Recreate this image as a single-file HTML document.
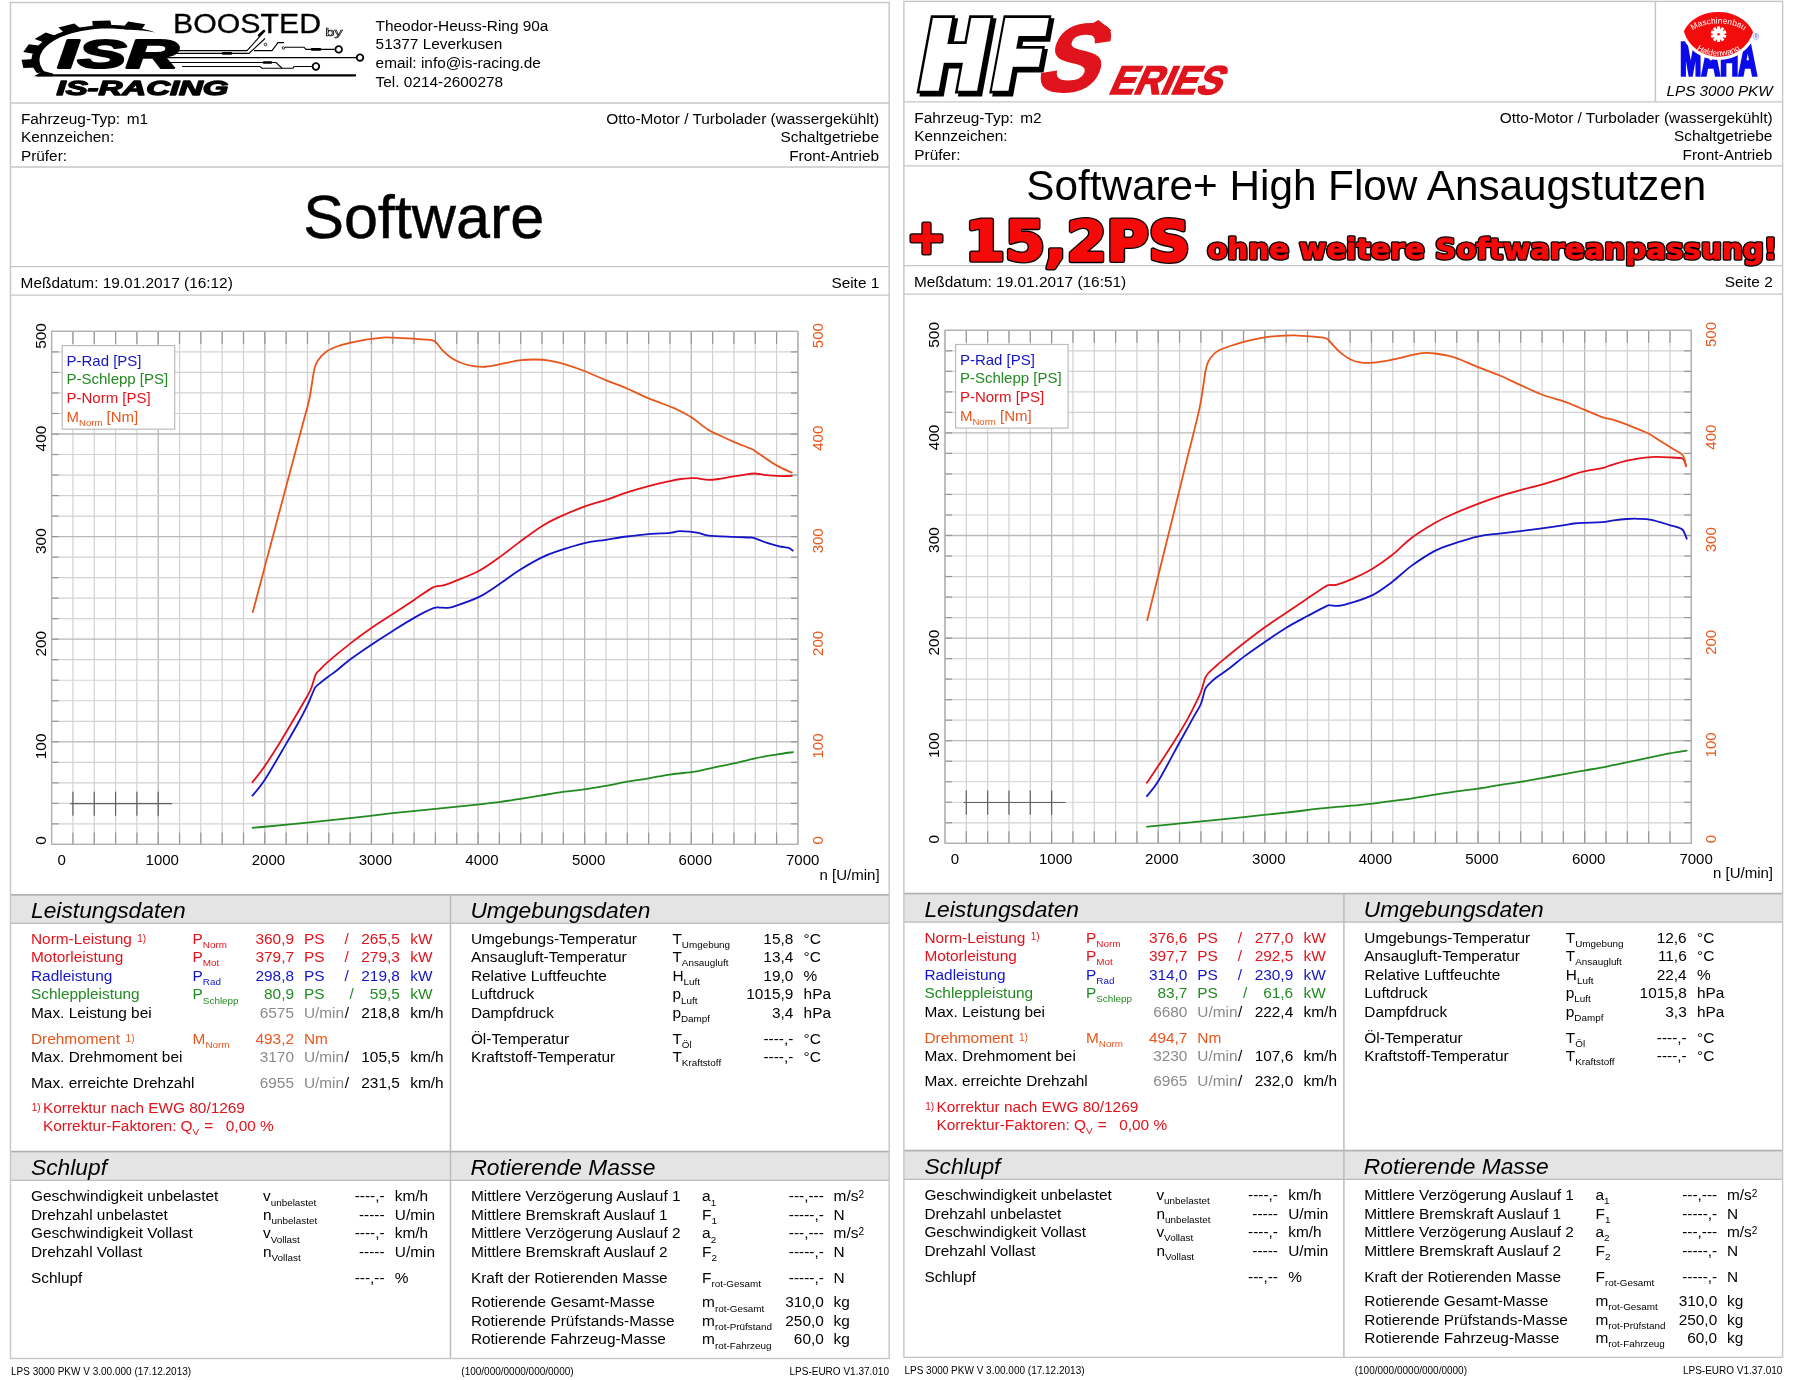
<!DOCTYPE html>
<html><head><meta charset="utf-8"><title>LPS 3000 Leistungsmessung</title>
<style>
html,body{margin:0;padding:0;background:#fff;}
svg{display:block;will-change:transform;}
svg{font-family:'Liberation Sans', Arial, sans-serif;}
</style></head><body>
<svg width="1800" height="1380" viewBox="0 0 1800 1380">
<rect width="1800" height="1380" fill="#fff"/>
<g>
<rect x="10.5" y="895.6" width="878.7" height="27" fill="#e4e4e4"/>
<rect x="10.5" y="1152.5" width="878.7" height="27" fill="#e4e4e4"/>
<line x1="10.50" y1="894.80" x2="889.20" y2="894.80" stroke="#afafaf" stroke-width="1.8"/>
<line x1="10.50" y1="923.20" x2="889.20" y2="923.20" stroke="#bdbdbd" stroke-width="1.5"/>
<line x1="10.50" y1="1151.70" x2="889.20" y2="1151.70" stroke="#afafaf" stroke-width="1.8"/>
<line x1="10.50" y1="1180.30" x2="889.20" y2="1180.30" stroke="#bdbdbd" stroke-width="1.5"/>
<line x1="450.50" y1="894.80" x2="450.50" y2="1358.50" stroke="#bcbcbc" stroke-width="1.5"/>
<line x1="10.50" y1="103.00" x2="889.20" y2="103.00" stroke="#c6c6c6" stroke-width="1.3"/>
<line x1="10.50" y1="167.00" x2="889.20" y2="167.00" stroke="#c6c6c6" stroke-width="1.3"/>
<line x1="10.50" y1="266.70" x2="889.20" y2="266.70" stroke="#c6c6c6" stroke-width="1.3"/>
<line x1="10.50" y1="295.20" x2="889.20" y2="295.20" stroke="#c6c6c6" stroke-width="1.3"/>
<rect x="10.5" y="2.5" width="878.7" height="1356" fill="none" stroke="#c6c6c6" stroke-width="1.4"/>
<text x="31.00" y="918.00" font-size="22.8" fill="#000" font-style="italic">Leistungsdaten</text>
<text x="470.40" y="918.00" font-size="22.8" fill="#000" font-style="italic">Umgebungsdaten</text>
<text x="31.00" y="1175.00" font-size="22.8" fill="#000" font-style="italic">Schlupf</text>
<text x="470.40" y="1175.00" font-size="22.8" fill="#000" font-style="italic">Rotierende Masse</text>
<text x="11.00" y="1375.00" font-size="10" fill="#000">LPS 3000 PKW V 3.00.000 (17.12.2013)</text>
<text x="461.30" y="1375.00" font-size="10" fill="#000">(100/000/0000/000/0000)</text>
<text x="889.00" y="1375.00" font-size="10" fill="#000" text-anchor="end">LPS-EURO V1.37.010</text>
<text x="20.90" y="123.80" font-size="15.4" fill="#000">Fahrzeug-Typ:</text>
<text x="126.80" y="123.80" font-size="15.4" fill="#000">m1</text>
<text x="20.90" y="142.20" font-size="15.4" fill="#000">Kennzeichen:</text>
<text x="20.90" y="160.70" font-size="15.4" fill="#000">Prüfer:</text>
<text x="879.20" y="123.80" font-size="15.4" fill="#000" text-anchor="end">Otto-Motor / Turbolader (wassergekühlt)</text>
<text x="879.00" y="142.20" font-size="15.4" fill="#000" text-anchor="end">Schaltgetriebe</text>
<text x="879.00" y="160.70" font-size="15.4" fill="#000" text-anchor="end">Front-Antrieb</text>
<text x="20.60" y="288.30" font-size="15.4" fill="#000">Meßdatum: 19.01.2017 (16:12)</text>
<text x="879.30" y="288.30" font-size="15.4" fill="#000" text-anchor="end">Seite 1</text>
<line x1="51.60" y1="331.40" x2="51.60" y2="844.40" stroke="#b8b8b8" stroke-width="1.3"/>
<line x1="72.92" y1="331.40" x2="72.92" y2="844.40" stroke="#d2d2d2" stroke-width="1.2"/>
<line x1="94.25" y1="331.40" x2="94.25" y2="844.40" stroke="#d2d2d2" stroke-width="1.2"/>
<line x1="115.57" y1="331.40" x2="115.57" y2="844.40" stroke="#d2d2d2" stroke-width="1.2"/>
<line x1="136.89" y1="331.40" x2="136.89" y2="844.40" stroke="#d2d2d2" stroke-width="1.2"/>
<line x1="158.21" y1="331.40" x2="158.21" y2="844.40" stroke="#b8b8b8" stroke-width="1.3"/>
<line x1="179.54" y1="331.40" x2="179.54" y2="844.40" stroke="#d2d2d2" stroke-width="1.2"/>
<line x1="200.86" y1="331.40" x2="200.86" y2="844.40" stroke="#d2d2d2" stroke-width="1.2"/>
<line x1="222.18" y1="331.40" x2="222.18" y2="844.40" stroke="#d2d2d2" stroke-width="1.2"/>
<line x1="243.51" y1="331.40" x2="243.51" y2="844.40" stroke="#d2d2d2" stroke-width="1.2"/>
<line x1="264.83" y1="331.40" x2="264.83" y2="844.40" stroke="#b8b8b8" stroke-width="1.3"/>
<line x1="286.15" y1="331.40" x2="286.15" y2="844.40" stroke="#d2d2d2" stroke-width="1.2"/>
<line x1="307.47" y1="331.40" x2="307.47" y2="844.40" stroke="#d2d2d2" stroke-width="1.2"/>
<line x1="328.80" y1="331.40" x2="328.80" y2="844.40" stroke="#d2d2d2" stroke-width="1.2"/>
<line x1="350.12" y1="331.40" x2="350.12" y2="844.40" stroke="#d2d2d2" stroke-width="1.2"/>
<line x1="371.44" y1="331.40" x2="371.44" y2="844.40" stroke="#b8b8b8" stroke-width="1.3"/>
<line x1="392.77" y1="331.40" x2="392.77" y2="844.40" stroke="#d2d2d2" stroke-width="1.2"/>
<line x1="414.09" y1="331.40" x2="414.09" y2="844.40" stroke="#d2d2d2" stroke-width="1.2"/>
<line x1="435.41" y1="331.40" x2="435.41" y2="844.40" stroke="#d2d2d2" stroke-width="1.2"/>
<line x1="456.73" y1="331.40" x2="456.73" y2="844.40" stroke="#d2d2d2" stroke-width="1.2"/>
<line x1="478.06" y1="331.40" x2="478.06" y2="844.40" stroke="#b8b8b8" stroke-width="1.3"/>
<line x1="499.38" y1="331.40" x2="499.38" y2="844.40" stroke="#d2d2d2" stroke-width="1.2"/>
<line x1="520.70" y1="331.40" x2="520.70" y2="844.40" stroke="#d2d2d2" stroke-width="1.2"/>
<line x1="542.03" y1="331.40" x2="542.03" y2="844.40" stroke="#d2d2d2" stroke-width="1.2"/>
<line x1="563.35" y1="331.40" x2="563.35" y2="844.40" stroke="#d2d2d2" stroke-width="1.2"/>
<line x1="584.67" y1="331.40" x2="584.67" y2="844.40" stroke="#b8b8b8" stroke-width="1.3"/>
<line x1="605.99" y1="331.40" x2="605.99" y2="844.40" stroke="#d2d2d2" stroke-width="1.2"/>
<line x1="627.32" y1="331.40" x2="627.32" y2="844.40" stroke="#d2d2d2" stroke-width="1.2"/>
<line x1="648.64" y1="331.40" x2="648.64" y2="844.40" stroke="#d2d2d2" stroke-width="1.2"/>
<line x1="669.96" y1="331.40" x2="669.96" y2="844.40" stroke="#d2d2d2" stroke-width="1.2"/>
<line x1="691.29" y1="331.40" x2="691.29" y2="844.40" stroke="#b8b8b8" stroke-width="1.3"/>
<line x1="712.61" y1="331.40" x2="712.61" y2="844.40" stroke="#d2d2d2" stroke-width="1.2"/>
<line x1="733.93" y1="331.40" x2="733.93" y2="844.40" stroke="#d2d2d2" stroke-width="1.2"/>
<line x1="755.25" y1="331.40" x2="755.25" y2="844.40" stroke="#d2d2d2" stroke-width="1.2"/>
<line x1="776.58" y1="331.40" x2="776.58" y2="844.40" stroke="#d2d2d2" stroke-width="1.2"/>
<line x1="797.90" y1="331.40" x2="797.90" y2="844.40" stroke="#b8b8b8" stroke-width="1.3"/>
<line x1="51.60" y1="844.40" x2="797.90" y2="844.40" stroke="#b8b8b8" stroke-width="1.3"/>
<line x1="51.60" y1="823.88" x2="797.90" y2="823.88" stroke="#d2d2d2" stroke-width="1.2"/>
<line x1="51.60" y1="803.36" x2="797.90" y2="803.36" stroke="#d2d2d2" stroke-width="1.2"/>
<line x1="51.60" y1="782.84" x2="797.90" y2="782.84" stroke="#d2d2d2" stroke-width="1.2"/>
<line x1="51.60" y1="762.32" x2="797.90" y2="762.32" stroke="#d2d2d2" stroke-width="1.2"/>
<line x1="51.60" y1="741.80" x2="797.90" y2="741.80" stroke="#b8b8b8" stroke-width="1.3"/>
<line x1="51.60" y1="721.28" x2="797.90" y2="721.28" stroke="#d2d2d2" stroke-width="1.2"/>
<line x1="51.60" y1="700.76" x2="797.90" y2="700.76" stroke="#d2d2d2" stroke-width="1.2"/>
<line x1="51.60" y1="680.24" x2="797.90" y2="680.24" stroke="#d2d2d2" stroke-width="1.2"/>
<line x1="51.60" y1="659.72" x2="797.90" y2="659.72" stroke="#d2d2d2" stroke-width="1.2"/>
<line x1="51.60" y1="639.20" x2="797.90" y2="639.20" stroke="#b8b8b8" stroke-width="1.3"/>
<line x1="51.60" y1="618.68" x2="797.90" y2="618.68" stroke="#d2d2d2" stroke-width="1.2"/>
<line x1="51.60" y1="598.16" x2="797.90" y2="598.16" stroke="#d2d2d2" stroke-width="1.2"/>
<line x1="51.60" y1="577.64" x2="797.90" y2="577.64" stroke="#d2d2d2" stroke-width="1.2"/>
<line x1="51.60" y1="557.12" x2="797.90" y2="557.12" stroke="#d2d2d2" stroke-width="1.2"/>
<line x1="51.60" y1="536.60" x2="797.90" y2="536.60" stroke="#b8b8b8" stroke-width="1.3"/>
<line x1="51.60" y1="516.08" x2="797.90" y2="516.08" stroke="#d2d2d2" stroke-width="1.2"/>
<line x1="51.60" y1="495.56" x2="797.90" y2="495.56" stroke="#d2d2d2" stroke-width="1.2"/>
<line x1="51.60" y1="475.04" x2="797.90" y2="475.04" stroke="#d2d2d2" stroke-width="1.2"/>
<line x1="51.60" y1="454.52" x2="797.90" y2="454.52" stroke="#d2d2d2" stroke-width="1.2"/>
<line x1="51.60" y1="434.00" x2="797.90" y2="434.00" stroke="#b8b8b8" stroke-width="1.3"/>
<line x1="51.60" y1="413.48" x2="797.90" y2="413.48" stroke="#d2d2d2" stroke-width="1.2"/>
<line x1="51.60" y1="392.96" x2="797.90" y2="392.96" stroke="#d2d2d2" stroke-width="1.2"/>
<line x1="51.60" y1="372.44" x2="797.90" y2="372.44" stroke="#d2d2d2" stroke-width="1.2"/>
<line x1="51.60" y1="351.92" x2="797.90" y2="351.92" stroke="#d2d2d2" stroke-width="1.2"/>
<line x1="51.60" y1="331.40" x2="797.90" y2="331.40" stroke="#b8b8b8" stroke-width="1.3"/>
<line x1="72.92" y1="331.40" x2="72.92" y2="343.90" stroke="#969696" stroke-width="1.2"/>
<line x1="72.92" y1="832.40" x2="72.92" y2="844.40" stroke="#969696" stroke-width="1.2"/>
<line x1="94.25" y1="331.40" x2="94.25" y2="343.90" stroke="#969696" stroke-width="1.2"/>
<line x1="94.25" y1="832.40" x2="94.25" y2="844.40" stroke="#969696" stroke-width="1.2"/>
<line x1="115.57" y1="331.40" x2="115.57" y2="343.90" stroke="#969696" stroke-width="1.2"/>
<line x1="115.57" y1="832.40" x2="115.57" y2="844.40" stroke="#969696" stroke-width="1.2"/>
<line x1="136.89" y1="331.40" x2="136.89" y2="343.90" stroke="#969696" stroke-width="1.2"/>
<line x1="136.89" y1="832.40" x2="136.89" y2="844.40" stroke="#969696" stroke-width="1.2"/>
<line x1="158.21" y1="331.40" x2="158.21" y2="343.90" stroke="#969696" stroke-width="1.2"/>
<line x1="158.21" y1="832.40" x2="158.21" y2="844.40" stroke="#969696" stroke-width="1.2"/>
<line x1="179.54" y1="331.40" x2="179.54" y2="343.90" stroke="#969696" stroke-width="1.2"/>
<line x1="179.54" y1="832.40" x2="179.54" y2="844.40" stroke="#969696" stroke-width="1.2"/>
<line x1="200.86" y1="331.40" x2="200.86" y2="343.90" stroke="#969696" stroke-width="1.2"/>
<line x1="200.86" y1="832.40" x2="200.86" y2="844.40" stroke="#969696" stroke-width="1.2"/>
<line x1="222.18" y1="331.40" x2="222.18" y2="343.90" stroke="#969696" stroke-width="1.2"/>
<line x1="222.18" y1="832.40" x2="222.18" y2="844.40" stroke="#969696" stroke-width="1.2"/>
<line x1="243.51" y1="331.40" x2="243.51" y2="343.90" stroke="#969696" stroke-width="1.2"/>
<line x1="243.51" y1="832.40" x2="243.51" y2="844.40" stroke="#969696" stroke-width="1.2"/>
<line x1="264.83" y1="331.40" x2="264.83" y2="343.90" stroke="#969696" stroke-width="1.2"/>
<line x1="264.83" y1="832.40" x2="264.83" y2="844.40" stroke="#969696" stroke-width="1.2"/>
<line x1="286.15" y1="331.40" x2="286.15" y2="343.90" stroke="#969696" stroke-width="1.2"/>
<line x1="286.15" y1="832.40" x2="286.15" y2="844.40" stroke="#969696" stroke-width="1.2"/>
<line x1="307.47" y1="331.40" x2="307.47" y2="343.90" stroke="#969696" stroke-width="1.2"/>
<line x1="307.47" y1="832.40" x2="307.47" y2="844.40" stroke="#969696" stroke-width="1.2"/>
<line x1="328.80" y1="331.40" x2="328.80" y2="343.90" stroke="#969696" stroke-width="1.2"/>
<line x1="328.80" y1="832.40" x2="328.80" y2="844.40" stroke="#969696" stroke-width="1.2"/>
<line x1="350.12" y1="331.40" x2="350.12" y2="343.90" stroke="#969696" stroke-width="1.2"/>
<line x1="350.12" y1="832.40" x2="350.12" y2="844.40" stroke="#969696" stroke-width="1.2"/>
<line x1="371.44" y1="331.40" x2="371.44" y2="343.90" stroke="#969696" stroke-width="1.2"/>
<line x1="371.44" y1="832.40" x2="371.44" y2="844.40" stroke="#969696" stroke-width="1.2"/>
<line x1="392.77" y1="331.40" x2="392.77" y2="343.90" stroke="#969696" stroke-width="1.2"/>
<line x1="392.77" y1="832.40" x2="392.77" y2="844.40" stroke="#969696" stroke-width="1.2"/>
<line x1="414.09" y1="331.40" x2="414.09" y2="343.90" stroke="#969696" stroke-width="1.2"/>
<line x1="414.09" y1="832.40" x2="414.09" y2="844.40" stroke="#969696" stroke-width="1.2"/>
<line x1="435.41" y1="331.40" x2="435.41" y2="343.90" stroke="#969696" stroke-width="1.2"/>
<line x1="435.41" y1="832.40" x2="435.41" y2="844.40" stroke="#969696" stroke-width="1.2"/>
<line x1="456.73" y1="331.40" x2="456.73" y2="343.90" stroke="#969696" stroke-width="1.2"/>
<line x1="456.73" y1="832.40" x2="456.73" y2="844.40" stroke="#969696" stroke-width="1.2"/>
<line x1="478.06" y1="331.40" x2="478.06" y2="343.90" stroke="#969696" stroke-width="1.2"/>
<line x1="478.06" y1="832.40" x2="478.06" y2="844.40" stroke="#969696" stroke-width="1.2"/>
<line x1="499.38" y1="331.40" x2="499.38" y2="343.90" stroke="#969696" stroke-width="1.2"/>
<line x1="499.38" y1="832.40" x2="499.38" y2="844.40" stroke="#969696" stroke-width="1.2"/>
<line x1="520.70" y1="331.40" x2="520.70" y2="343.90" stroke="#969696" stroke-width="1.2"/>
<line x1="520.70" y1="832.40" x2="520.70" y2="844.40" stroke="#969696" stroke-width="1.2"/>
<line x1="542.03" y1="331.40" x2="542.03" y2="343.90" stroke="#969696" stroke-width="1.2"/>
<line x1="542.03" y1="832.40" x2="542.03" y2="844.40" stroke="#969696" stroke-width="1.2"/>
<line x1="563.35" y1="331.40" x2="563.35" y2="343.90" stroke="#969696" stroke-width="1.2"/>
<line x1="563.35" y1="832.40" x2="563.35" y2="844.40" stroke="#969696" stroke-width="1.2"/>
<line x1="584.67" y1="331.40" x2="584.67" y2="343.90" stroke="#969696" stroke-width="1.2"/>
<line x1="584.67" y1="832.40" x2="584.67" y2="844.40" stroke="#969696" stroke-width="1.2"/>
<line x1="605.99" y1="331.40" x2="605.99" y2="343.90" stroke="#969696" stroke-width="1.2"/>
<line x1="605.99" y1="832.40" x2="605.99" y2="844.40" stroke="#969696" stroke-width="1.2"/>
<line x1="627.32" y1="331.40" x2="627.32" y2="343.90" stroke="#969696" stroke-width="1.2"/>
<line x1="627.32" y1="832.40" x2="627.32" y2="844.40" stroke="#969696" stroke-width="1.2"/>
<line x1="648.64" y1="331.40" x2="648.64" y2="343.90" stroke="#969696" stroke-width="1.2"/>
<line x1="648.64" y1="832.40" x2="648.64" y2="844.40" stroke="#969696" stroke-width="1.2"/>
<line x1="669.96" y1="331.40" x2="669.96" y2="343.90" stroke="#969696" stroke-width="1.2"/>
<line x1="669.96" y1="832.40" x2="669.96" y2="844.40" stroke="#969696" stroke-width="1.2"/>
<line x1="691.29" y1="331.40" x2="691.29" y2="343.90" stroke="#969696" stroke-width="1.2"/>
<line x1="691.29" y1="832.40" x2="691.29" y2="844.40" stroke="#969696" stroke-width="1.2"/>
<line x1="712.61" y1="331.40" x2="712.61" y2="343.90" stroke="#969696" stroke-width="1.2"/>
<line x1="712.61" y1="832.40" x2="712.61" y2="844.40" stroke="#969696" stroke-width="1.2"/>
<line x1="733.93" y1="331.40" x2="733.93" y2="343.90" stroke="#969696" stroke-width="1.2"/>
<line x1="733.93" y1="832.40" x2="733.93" y2="844.40" stroke="#969696" stroke-width="1.2"/>
<line x1="755.25" y1="331.40" x2="755.25" y2="343.90" stroke="#969696" stroke-width="1.2"/>
<line x1="755.25" y1="832.40" x2="755.25" y2="844.40" stroke="#969696" stroke-width="1.2"/>
<line x1="776.58" y1="331.40" x2="776.58" y2="343.90" stroke="#969696" stroke-width="1.2"/>
<line x1="776.58" y1="832.40" x2="776.58" y2="844.40" stroke="#969696" stroke-width="1.2"/>
<line x1="51.60" y1="823.88" x2="58.60" y2="823.88" stroke="#969696" stroke-width="1.2"/>
<line x1="790.90" y1="823.88" x2="797.90" y2="823.88" stroke="#969696" stroke-width="1.2"/>
<line x1="51.60" y1="803.36" x2="58.60" y2="803.36" stroke="#969696" stroke-width="1.2"/>
<line x1="790.90" y1="803.36" x2="797.90" y2="803.36" stroke="#969696" stroke-width="1.2"/>
<line x1="51.60" y1="782.84" x2="58.60" y2="782.84" stroke="#969696" stroke-width="1.2"/>
<line x1="790.90" y1="782.84" x2="797.90" y2="782.84" stroke="#969696" stroke-width="1.2"/>
<line x1="51.60" y1="762.32" x2="58.60" y2="762.32" stroke="#969696" stroke-width="1.2"/>
<line x1="790.90" y1="762.32" x2="797.90" y2="762.32" stroke="#969696" stroke-width="1.2"/>
<line x1="51.60" y1="741.80" x2="58.60" y2="741.80" stroke="#969696" stroke-width="1.2"/>
<line x1="790.90" y1="741.80" x2="797.90" y2="741.80" stroke="#969696" stroke-width="1.2"/>
<line x1="51.60" y1="721.28" x2="58.60" y2="721.28" stroke="#969696" stroke-width="1.2"/>
<line x1="790.90" y1="721.28" x2="797.90" y2="721.28" stroke="#969696" stroke-width="1.2"/>
<line x1="51.60" y1="700.76" x2="58.60" y2="700.76" stroke="#969696" stroke-width="1.2"/>
<line x1="790.90" y1="700.76" x2="797.90" y2="700.76" stroke="#969696" stroke-width="1.2"/>
<line x1="51.60" y1="680.24" x2="58.60" y2="680.24" stroke="#969696" stroke-width="1.2"/>
<line x1="790.90" y1="680.24" x2="797.90" y2="680.24" stroke="#969696" stroke-width="1.2"/>
<line x1="51.60" y1="659.72" x2="58.60" y2="659.72" stroke="#969696" stroke-width="1.2"/>
<line x1="790.90" y1="659.72" x2="797.90" y2="659.72" stroke="#969696" stroke-width="1.2"/>
<line x1="51.60" y1="639.20" x2="58.60" y2="639.20" stroke="#969696" stroke-width="1.2"/>
<line x1="790.90" y1="639.20" x2="797.90" y2="639.20" stroke="#969696" stroke-width="1.2"/>
<line x1="51.60" y1="618.68" x2="58.60" y2="618.68" stroke="#969696" stroke-width="1.2"/>
<line x1="790.90" y1="618.68" x2="797.90" y2="618.68" stroke="#969696" stroke-width="1.2"/>
<line x1="51.60" y1="598.16" x2="58.60" y2="598.16" stroke="#969696" stroke-width="1.2"/>
<line x1="790.90" y1="598.16" x2="797.90" y2="598.16" stroke="#969696" stroke-width="1.2"/>
<line x1="51.60" y1="577.64" x2="58.60" y2="577.64" stroke="#969696" stroke-width="1.2"/>
<line x1="790.90" y1="577.64" x2="797.90" y2="577.64" stroke="#969696" stroke-width="1.2"/>
<line x1="51.60" y1="557.12" x2="58.60" y2="557.12" stroke="#969696" stroke-width="1.2"/>
<line x1="790.90" y1="557.12" x2="797.90" y2="557.12" stroke="#969696" stroke-width="1.2"/>
<line x1="51.60" y1="536.60" x2="58.60" y2="536.60" stroke="#969696" stroke-width="1.2"/>
<line x1="790.90" y1="536.60" x2="797.90" y2="536.60" stroke="#969696" stroke-width="1.2"/>
<line x1="51.60" y1="516.08" x2="58.60" y2="516.08" stroke="#969696" stroke-width="1.2"/>
<line x1="790.90" y1="516.08" x2="797.90" y2="516.08" stroke="#969696" stroke-width="1.2"/>
<line x1="51.60" y1="495.56" x2="58.60" y2="495.56" stroke="#969696" stroke-width="1.2"/>
<line x1="790.90" y1="495.56" x2="797.90" y2="495.56" stroke="#969696" stroke-width="1.2"/>
<line x1="51.60" y1="475.04" x2="58.60" y2="475.04" stroke="#969696" stroke-width="1.2"/>
<line x1="790.90" y1="475.04" x2="797.90" y2="475.04" stroke="#969696" stroke-width="1.2"/>
<line x1="51.60" y1="454.52" x2="58.60" y2="454.52" stroke="#969696" stroke-width="1.2"/>
<line x1="790.90" y1="454.52" x2="797.90" y2="454.52" stroke="#969696" stroke-width="1.2"/>
<line x1="51.60" y1="434.00" x2="58.60" y2="434.00" stroke="#969696" stroke-width="1.2"/>
<line x1="790.90" y1="434.00" x2="797.90" y2="434.00" stroke="#969696" stroke-width="1.2"/>
<line x1="51.60" y1="413.48" x2="58.60" y2="413.48" stroke="#969696" stroke-width="1.2"/>
<line x1="790.90" y1="413.48" x2="797.90" y2="413.48" stroke="#969696" stroke-width="1.2"/>
<line x1="51.60" y1="392.96" x2="58.60" y2="392.96" stroke="#969696" stroke-width="1.2"/>
<line x1="790.90" y1="392.96" x2="797.90" y2="392.96" stroke="#969696" stroke-width="1.2"/>
<line x1="51.60" y1="372.44" x2="58.60" y2="372.44" stroke="#969696" stroke-width="1.2"/>
<line x1="790.90" y1="372.44" x2="797.90" y2="372.44" stroke="#969696" stroke-width="1.2"/>
<line x1="51.60" y1="351.92" x2="58.60" y2="351.92" stroke="#969696" stroke-width="1.2"/>
<line x1="790.90" y1="351.92" x2="797.90" y2="351.92" stroke="#969696" stroke-width="1.2"/>
<rect x="51.60" y="331.40" width="746.30" height="513.00" fill="none" stroke="#b0b0b0" stroke-width="1.2"/>
<line x1="70.20" y1="803.60" x2="172.10" y2="803.60" stroke="#606060" stroke-width="1.2"/>
<line x1="72.92" y1="791.70" x2="72.92" y2="815.80" stroke="#606060" stroke-width="1.2"/>
<line x1="94.25" y1="791.70" x2="94.25" y2="815.80" stroke="#606060" stroke-width="1.2"/>
<line x1="115.57" y1="791.70" x2="115.57" y2="815.80" stroke="#606060" stroke-width="1.2"/>
<line x1="136.89" y1="791.70" x2="136.89" y2="815.80" stroke="#606060" stroke-width="1.2"/>
<line x1="158.21" y1="791.70" x2="158.21" y2="815.80" stroke="#606060" stroke-width="1.2"/>
<text transform="translate(46.0,836.10) rotate(-90)" font-size="15.4" text-anchor="end" fill="#000">0</text>
<text transform="translate(822.8,836.10) rotate(-90)" font-size="15" text-anchor="end" fill="#e8561c">0</text>
<text transform="translate(46.0,733.50) rotate(-90)" font-size="15.4" text-anchor="end" fill="#000">100</text>
<text transform="translate(822.8,733.50) rotate(-90)" font-size="15" text-anchor="end" fill="#e8561c">100</text>
<text transform="translate(46.0,630.90) rotate(-90)" font-size="15.4" text-anchor="end" fill="#000">200</text>
<text transform="translate(822.8,630.90) rotate(-90)" font-size="15" text-anchor="end" fill="#e8561c">200</text>
<text transform="translate(46.0,528.30) rotate(-90)" font-size="15.4" text-anchor="end" fill="#000">300</text>
<text transform="translate(822.8,528.30) rotate(-90)" font-size="15" text-anchor="end" fill="#e8561c">300</text>
<text transform="translate(46.0,425.70) rotate(-90)" font-size="15.4" text-anchor="end" fill="#000">400</text>
<text transform="translate(822.8,425.70) rotate(-90)" font-size="15" text-anchor="end" fill="#e8561c">400</text>
<text transform="translate(46.0,323.10) rotate(-90)" font-size="15.4" text-anchor="end" fill="#000">500</text>
<text transform="translate(822.8,323.10) rotate(-90)" font-size="15" text-anchor="end" fill="#e8561c">500</text>
<text x="61.60" y="865.40" font-size="15" fill="#000" text-anchor="middle">0</text>
<text x="162.25" y="865.40" font-size="15" fill="#000" text-anchor="middle">1000</text>
<text x="268.40" y="865.40" font-size="15" fill="#000" text-anchor="middle">2000</text>
<text x="375.40" y="865.40" font-size="15" fill="#000" text-anchor="middle">3000</text>
<text x="482.00" y="865.40" font-size="15" fill="#000" text-anchor="middle">4000</text>
<text x="588.60" y="865.40" font-size="15" fill="#000" text-anchor="middle">5000</text>
<text x="695.30" y="865.40" font-size="15" fill="#000" text-anchor="middle">6000</text>
<text x="802.70" y="865.40" font-size="15" fill="#000" text-anchor="middle">7000</text>
<text x="879.60" y="879.60" font-size="15" fill="#000" text-anchor="end">n [U/min]</text>
<rect x="62.2" y="345.6" width="112.5" height="83.6" fill="#fff" stroke="#bcbcbc" stroke-width="1.2"/>
<text x="66.50" y="365.80" font-size="15" fill="#1414c8">P-Rad [PS]</text>
<text x="66.50" y="384.40" font-size="15" fill="#218a21">P-Schlepp [PS]</text>
<text x="66.50" y="403.10" font-size="15" fill="#e3121b">P-Norm [PS]</text>
<text x="66.5" y="421.8" font-size="15" fill="#e8561c">M<tspan font-size="9.6" dy="4">Norm</tspan><tspan dy="-4"> [Nm]</tspan></text>
<path d="M252.46,827.78 C254.52,827.61 255.66,827.62 264.83,826.75 C274.00,825.88 293.26,823.98 307.47,822.55 C321.69,821.11 335.96,819.69 350.12,818.13 C364.28,816.58 378.23,814.77 392.45,813.21 C406.66,811.65 422.49,810.11 435.41,808.80 C448.33,807.48 459.33,806.44 469.95,805.31 C480.58,804.18 490.74,803.10 499.17,802.03 C507.59,800.95 513.42,799.96 520.49,798.85 C527.56,797.73 534.53,796.50 541.60,795.36 C548.67,794.21 555.78,792.98 562.92,791.97 C570.07,790.96 577.33,790.31 584.46,789.30 C591.58,788.29 598.58,787.18 605.67,785.92 C612.76,784.65 619.85,782.98 627.00,781.71 C634.14,780.45 641.39,779.52 648.53,778.33 C655.68,777.13 662.73,775.56 669.86,774.53 C676.98,773.50 686.24,772.82 691.29,772.17 C696.33,771.52 696.62,771.35 700.13,770.63 C703.65,769.91 706.80,769.06 712.40,767.86 C717.99,766.66 726.58,765.04 733.72,763.45 C740.86,761.86 748.11,759.81 755.25,758.32 C762.40,756.83 770.29,755.57 776.58,754.52 C782.87,753.48 790.26,752.47 793.00,752.06" fill="none" stroke="#218a21" stroke-width="1.8" stroke-linejoin="round" stroke-linecap="round"/>
<path d="M252.46,795.66 C254.52,793.01 259.21,788.40 264.83,779.76 C270.44,771.13 280.41,753.65 286.15,743.85 C291.89,734.05 295.71,727.44 299.26,720.97 C302.82,714.51 305.41,709.33 307.47,705.07 C309.54,700.81 310.37,698.30 311.63,695.42 C312.89,692.55 313.91,689.68 315.04,687.83 C316.18,685.99 316.27,686.19 318.46,684.34 C320.64,682.50 325.17,679.01 328.16,676.75 C331.14,674.49 332.60,673.76 336.37,670.80 C340.13,667.84 344.86,663.40 350.76,659.00 C356.66,654.61 364.76,649.12 371.76,644.43 C378.76,639.75 385.71,635.32 392.77,630.89 C399.82,626.46 407.32,621.64 414.09,617.86 C420.86,614.08 429.05,609.92 433.39,608.21 C437.72,606.50 438.09,607.67 440.10,607.60 C442.11,607.53 443.30,607.94 445.43,607.80 C447.57,607.67 447.28,608.59 452.90,606.78 C458.51,604.97 470.93,601.02 479.12,596.93 C487.31,592.84 495.49,586.62 502.05,582.26 C508.60,577.90 511.91,574.87 518.46,570.77 C525.02,566.66 534.83,560.92 541.39,557.63 C547.94,554.35 550.43,553.53 557.80,551.07 C565.18,548.60 577.65,544.74 585.63,542.86 C593.61,540.98 598.78,540.84 605.67,539.78 C612.57,538.72 619.85,537.45 627.00,536.50 C634.14,535.54 641.39,534.65 648.53,534.03 C655.68,533.42 664.72,533.30 669.86,532.80 C674.99,532.31 675.77,531.23 679.34,531.06 C682.92,530.89 688.14,531.49 691.29,531.78 C694.43,532.07 695.34,532.17 698.22,532.80 C701.09,533.44 702.66,534.89 708.56,535.57 C714.46,536.26 726.54,536.58 733.61,536.91 C740.68,537.23 747.40,537.27 750.99,537.52 C754.58,537.78 752.32,537.51 755.15,538.45 C757.97,539.39 763.93,541.85 767.94,543.17 C771.96,544.48 775.78,545.56 779.24,546.35 C782.71,547.13 786.47,547.17 788.73,547.89 C790.99,548.60 792.11,550.19 792.78,550.66" fill="none" stroke="#1414c8" stroke-width="1.8" stroke-linejoin="round" stroke-linecap="round"/>
<path d="M252.46,782.22 C254.52,779.51 260.24,772.55 264.83,765.91 C269.41,759.28 275.38,749.79 279.97,742.42 C284.55,735.05 287.75,729.47 292.34,721.69 C296.92,713.91 304.26,701.50 307.47,695.73 C310.69,689.97 310.26,690.62 311.63,687.11 C313.00,683.61 314.32,677.57 315.68,674.70 C317.05,671.83 317.76,672.05 319.84,669.88 C321.92,667.71 323.00,666.13 328.16,661.67 C333.31,657.21 343.49,648.74 350.76,643.10 C358.03,637.46 364.76,632.65 371.76,627.81 C378.76,622.97 385.71,618.71 392.77,614.06 C399.82,609.41 407.53,604.26 414.09,599.90 C420.65,595.54 428.21,590.19 432.11,587.90 C436.00,585.61 435.45,586.60 437.44,586.16 C439.43,585.71 440.92,586.16 444.05,585.23 C447.17,584.31 450.36,583.03 456.20,580.62 C462.05,578.20 471.48,574.97 479.12,570.77 C486.76,566.56 495.49,560.03 502.05,555.38 C508.60,550.72 511.91,547.68 518.46,542.86 C525.02,538.04 534.83,530.65 541.39,526.44 C547.94,522.24 550.43,521.00 557.80,517.62 C565.18,514.23 577.65,509.05 585.63,506.13 C593.61,503.20 598.76,502.35 605.67,500.07 C612.59,497.80 619.94,494.79 627.10,492.48 C634.26,490.17 641.50,488.12 648.64,486.22 C655.78,484.33 664.85,482.26 669.96,481.09 C675.08,479.93 675.79,479.73 679.34,479.25 C682.90,478.77 688.44,478.39 691.29,478.22 C694.13,478.05 693.51,477.93 696.40,478.22 C699.30,478.51 704.58,479.90 708.66,479.96 C712.75,480.03 716.75,479.23 720.92,478.63 C725.10,478.03 729.95,477.01 733.72,476.37 C737.49,475.74 740.15,475.31 743.53,474.83 C746.90,474.36 750.51,473.50 753.97,473.50 C757.44,473.50 760.55,474.42 764.32,474.83 C768.08,475.25 772.01,475.78 776.58,475.96 C781.14,476.15 789.19,475.96 791.72,475.96" fill="none" stroke="#e3121b" stroke-width="1.8" stroke-linejoin="round" stroke-linecap="round"/>
<path d="M252.78,612.01 C254.91,603.99 261.31,579.93 265.57,563.89 C269.84,547.85 274.10,531.79 278.37,515.77 C282.63,499.75 286.92,483.71 291.16,467.76 C295.41,451.80 300.81,431.55 303.85,420.05 C306.89,408.54 307.69,406.93 309.39,398.71 C311.10,390.48 312.75,376.94 314.08,370.70 C315.42,364.45 315.27,364.49 317.39,361.26 C319.50,358.02 322.99,353.95 326.77,351.30 C330.56,348.65 336.10,346.79 340.10,345.35 C344.10,343.92 346.10,343.69 350.76,342.69 C355.42,341.68 362.70,340.16 368.03,339.30 C373.36,338.45 378.51,337.83 382.74,337.56 C386.97,337.28 388.29,337.47 393.41,337.66 C398.52,337.85 407.89,338.34 413.45,338.68 C419.01,339.03 423.22,339.27 426.78,339.71 C430.33,340.16 432.11,339.52 434.77,341.35 C437.44,343.18 439.66,347.70 442.77,350.69 C445.88,353.68 449.43,356.96 453.43,359.31 C457.43,361.65 461.80,363.48 466.76,364.75 C471.71,366.01 477.77,366.95 483.17,366.90 C488.58,366.85 492.88,365.55 499.17,364.44 C505.46,363.33 514.79,361.05 520.92,360.23 C527.05,359.41 531.24,359.44 535.95,359.51 C540.66,359.58 544.44,359.89 549.17,360.64 C553.90,361.39 558.43,362.30 564.31,364.03 C570.19,365.75 577.55,368.32 584.46,371.00 C591.37,373.69 600.02,377.78 605.78,380.13 C611.54,382.49 615.45,383.78 619.00,385.16 C622.56,386.55 622.16,386.24 627.10,388.45 C632.04,390.65 641.50,395.39 648.64,398.40 C655.78,401.41 665.15,404.61 669.96,406.50 C674.78,408.40 673.98,407.99 677.53,409.79 C681.09,411.58 686.26,413.98 691.29,417.28 C696.31,420.58 703.40,426.75 707.70,429.59 C712.00,432.43 712.75,432.27 717.09,434.31 C721.42,436.34 728.05,439.39 733.72,441.80 C739.39,444.21 747.51,447.20 751.10,448.77 C754.69,450.35 751.01,448.47 755.25,451.24 C759.50,454.01 770.50,461.84 776.58,465.40 C782.65,468.95 789.19,471.38 791.72,472.58" fill="none" stroke="#e8561c" stroke-width="1.8" stroke-linejoin="round" stroke-linecap="round"/>
<text x="31.00" y="943.70" font-size="15.4" fill="#e3121b">Norm-Leistung</text>
<text x="137.30" y="941.50" font-size="10" fill="#e3121b">1)</text>
<text x="192.60" y="943.70" font-size="15.4" fill="#e3121b">P<tspan font-size="9.9" dy="4.2">Norm</tspan></text>
<text x="294.00" y="943.70" font-size="15.4" fill="#e3121b" text-anchor="end">360,9</text>
<text x="303.90" y="943.70" font-size="15.4" fill="#e3121b">PS</text>
<text x="344.40" y="943.70" font-size="15.4" fill="#e3121b">/</text>
<text x="399.80" y="943.70" font-size="15.4" fill="#e3121b" text-anchor="end">265,5</text>
<text x="410.20" y="943.70" font-size="15.4" fill="#e3121b">kW</text>
<text x="31.00" y="962.25" font-size="15.4" fill="#e3121b">Motorleistung</text>
<text x="192.60" y="962.25" font-size="15.4" fill="#e3121b">P<tspan font-size="9.9" dy="4.2">Mot</tspan></text>
<text x="294.00" y="962.25" font-size="15.4" fill="#e3121b" text-anchor="end">379,7</text>
<text x="303.90" y="962.25" font-size="15.4" fill="#e3121b">PS</text>
<text x="344.40" y="962.25" font-size="15.4" fill="#e3121b">/</text>
<text x="399.80" y="962.25" font-size="15.4" fill="#e3121b" text-anchor="end">279,3</text>
<text x="410.20" y="962.25" font-size="15.4" fill="#e3121b">kW</text>
<text x="31.00" y="980.80" font-size="15.4" fill="#1414c8">Radleistung</text>
<text x="192.60" y="980.80" font-size="15.4" fill="#1414c8">P<tspan font-size="9.9" dy="4.2">Rad</tspan></text>
<text x="294.00" y="980.80" font-size="15.4" fill="#1414c8" text-anchor="end">298,8</text>
<text x="303.90" y="980.80" font-size="15.4" fill="#1414c8">PS</text>
<text x="344.40" y="980.80" font-size="15.4" fill="#1414c8">/</text>
<text x="399.80" y="980.80" font-size="15.4" fill="#1414c8" text-anchor="end">219,8</text>
<text x="410.20" y="980.80" font-size="15.4" fill="#1414c8">kW</text>
<text x="31.00" y="999.35" font-size="15.4" fill="#218a21">Schleppleistung</text>
<text x="192.60" y="999.35" font-size="15.4" fill="#218a21">P<tspan font-size="9.9" dy="4.2">Schlepp</tspan></text>
<text x="294.00" y="999.35" font-size="15.4" fill="#218a21" text-anchor="end">80,9</text>
<text x="303.90" y="999.35" font-size="15.4" fill="#218a21">PS</text>
<text x="349.60" y="999.35" font-size="15.4" fill="#218a21">/</text>
<text x="399.80" y="999.35" font-size="15.4" fill="#218a21" text-anchor="end">59,5</text>
<text x="410.20" y="999.35" font-size="15.4" fill="#218a21">kW</text>
<text x="31.00" y="1017.90" font-size="15.4" fill="#000">Max. Leistung bei</text>
<text x="294.00" y="1017.90" font-size="15.4" fill="#8a8a8a" text-anchor="end">6575</text>
<text x="303.90" y="1017.90" font-size="15.4" fill="#8a8a8a">U/min</text>
<text x="344.70" y="1017.90" font-size="15.4" fill="#000">/</text>
<text x="399.80" y="1017.90" font-size="15.4" fill="#000" text-anchor="end">218,8</text>
<text x="410.20" y="1017.90" font-size="15.4" fill="#000">km/h</text>
<text x="31.00" y="1044.20" font-size="15.4" fill="#e8561c">Drehmoment</text>
<text x="125.60" y="1042.00" font-size="10" fill="#e8561c">1)</text>
<text x="192.60" y="1044.20" font-size="15.4" fill="#e8561c">M<tspan font-size="9.9" dy="4.2">Norm</tspan></text>
<text x="294.00" y="1044.20" font-size="15.4" fill="#e8561c" text-anchor="end">493,2</text>
<text x="303.90" y="1044.20" font-size="15.4" fill="#e8561c">Nm</text>
<text x="31.00" y="1061.70" font-size="15.4" fill="#000">Max. Drehmoment bei</text>
<text x="294.00" y="1061.70" font-size="15.4" fill="#8a8a8a" text-anchor="end">3170</text>
<text x="303.90" y="1061.70" font-size="15.4" fill="#8a8a8a">U/min</text>
<text x="344.70" y="1061.70" font-size="15.4" fill="#000">/</text>
<text x="399.80" y="1061.70" font-size="15.4" fill="#000" text-anchor="end">105,5</text>
<text x="410.20" y="1061.70" font-size="15.4" fill="#000">km/h</text>
<text x="31.00" y="1087.50" font-size="15.4" fill="#000">Max. erreichte Drehzahl</text>
<text x="294.00" y="1087.50" font-size="15.4" fill="#8a8a8a" text-anchor="end">6955</text>
<text x="303.90" y="1087.50" font-size="15.4" fill="#8a8a8a">U/min</text>
<text x="344.70" y="1087.50" font-size="15.4" fill="#000">/</text>
<text x="399.80" y="1087.50" font-size="15.4" fill="#000" text-anchor="end">231,5</text>
<text x="410.20" y="1087.50" font-size="15.4" fill="#000">km/h</text>
<text x="31.80" y="1111.30" font-size="10" fill="#e3121b">1)</text>
<text x="43.00" y="1113.30" font-size="15.4" fill="#e3121b">Korrektur nach EWG 80/1269</text>
<text x="43.00" y="1130.80" font-size="15.4" fill="#e3121b">Korrektur-Faktoren:</text>
<text x="180.60" y="1130.80" font-size="15.4" fill="#e3121b">Q<tspan font-size="9.9" dy="4.2">V</tspan></text>
<text x="204.30" y="1130.80" font-size="15.4" fill="#e3121b">=</text>
<text x="225.80" y="1130.80" font-size="15.4" fill="#e3121b">0,00 %</text>
<text x="470.90" y="943.70" font-size="15.4" fill="#000">Umgebungs-Temperatur</text>
<text x="672.40" y="943.70" font-size="15.4" fill="#000">T<tspan font-size="9.9" dy="4.2">Umgebung</tspan></text>
<text x="793.30" y="943.70" font-size="15.4" fill="#000" text-anchor="end">15,8</text>
<text x="803.60" y="943.70" font-size="15.4" fill="#000">°C</text>
<text x="470.90" y="962.25" font-size="15.4" fill="#000">Ansaugluft-Temperatur</text>
<text x="672.40" y="962.25" font-size="15.4" fill="#000">T<tspan font-size="9.9" dy="4.2">Ansaugluft</tspan></text>
<text x="793.30" y="962.25" font-size="15.4" fill="#000" text-anchor="end">13,4</text>
<text x="803.60" y="962.25" font-size="15.4" fill="#000">°C</text>
<text x="470.90" y="980.80" font-size="15.4" fill="#000">Relative Luftfeuchte</text>
<text x="672.40" y="980.80" font-size="15.4" fill="#000">H<tspan font-size="9.9" dy="4.2">Luft</tspan></text>
<text x="793.30" y="980.80" font-size="15.4" fill="#000" text-anchor="end">19,0</text>
<text x="803.60" y="980.80" font-size="15.4" fill="#000">%</text>
<text x="470.90" y="999.35" font-size="15.4" fill="#000">Luftdruck</text>
<text x="672.40" y="999.35" font-size="15.4" fill="#000">p<tspan font-size="9.9" dy="4.2">Luft</tspan></text>
<text x="793.30" y="999.35" font-size="15.4" fill="#000" text-anchor="end">1015,9</text>
<text x="803.60" y="999.35" font-size="15.4" fill="#000">hPa</text>
<text x="470.90" y="1017.90" font-size="15.4" fill="#000">Dampfdruck</text>
<text x="672.40" y="1017.90" font-size="15.4" fill="#000">p<tspan font-size="9.9" dy="4.2">Dampf</tspan></text>
<text x="793.30" y="1017.90" font-size="15.4" fill="#000" text-anchor="end">3,4</text>
<text x="803.60" y="1017.90" font-size="15.4" fill="#000">hPa</text>
<text x="470.90" y="1044.20" font-size="15.4" fill="#000">Öl-Temperatur</text>
<text x="672.40" y="1044.20" font-size="15.4" fill="#000">T<tspan font-size="9.9" dy="4.2">Öl</tspan></text>
<text x="793.30" y="1044.20" font-size="15.4" fill="#000" text-anchor="end">----,-</text>
<text x="803.60" y="1044.20" font-size="15.4" fill="#000">°C</text>
<text x="470.90" y="1061.70" font-size="15.4" fill="#000">Kraftstoff-Temperatur</text>
<text x="672.40" y="1061.70" font-size="15.4" fill="#000">T<tspan font-size="9.9" dy="4.2">Kraftstoff</tspan></text>
<text x="793.30" y="1061.70" font-size="15.4" fill="#000" text-anchor="end">----,-</text>
<text x="803.60" y="1061.70" font-size="15.4" fill="#000">°C</text>
<text x="31.00" y="1201.30" font-size="15.4" fill="#000">Geschwindigkeit unbelastet</text>
<text x="263.00" y="1201.30" font-size="15.4" fill="#000">v<tspan font-size="9.9" dy="4.2">unbelastet</tspan></text>
<text x="384.60" y="1201.30" font-size="15.4" fill="#000" text-anchor="end">----,-</text>
<text x="394.80" y="1201.30" font-size="15.4" fill="#000">km/h</text>
<text x="31.00" y="1219.85" font-size="15.4" fill="#000">Drehzahl unbelastet</text>
<text x="263.00" y="1219.85" font-size="15.4" fill="#000">n<tspan font-size="9.9" dy="4.2">unbelastet</tspan></text>
<text x="384.60" y="1219.85" font-size="15.4" fill="#000" text-anchor="end">-----</text>
<text x="394.80" y="1219.85" font-size="15.4" fill="#000">U/min</text>
<text x="31.00" y="1238.40" font-size="15.4" fill="#000">Geschwindigkeit Vollast</text>
<text x="263.00" y="1238.40" font-size="15.4" fill="#000">v<tspan font-size="9.9" dy="4.2">Vollast</tspan></text>
<text x="384.60" y="1238.40" font-size="15.4" fill="#000" text-anchor="end">----,-</text>
<text x="394.80" y="1238.40" font-size="15.4" fill="#000">km/h</text>
<text x="31.00" y="1256.95" font-size="15.4" fill="#000">Drehzahl Vollast</text>
<text x="263.00" y="1256.95" font-size="15.4" fill="#000">n<tspan font-size="9.9" dy="4.2">Vollast</tspan></text>
<text x="384.60" y="1256.95" font-size="15.4" fill="#000" text-anchor="end">-----</text>
<text x="394.80" y="1256.95" font-size="15.4" fill="#000">U/min</text>
<text x="31.00" y="1283.10" font-size="15.4" fill="#000">Schlupf</text>
<text x="384.60" y="1283.10" font-size="15.4" fill="#000" text-anchor="end">---,--</text>
<text x="394.80" y="1283.10" font-size="15.4" fill="#000">%</text>
<text x="470.90" y="1201.30" font-size="15.4" fill="#000">Mittlere Verzögerung Auslauf 1</text>
<text x="702.10" y="1201.30" font-size="15.4" fill="#000">a<tspan font-size="9.9" dy="4.2">1</tspan></text>
<text x="823.80" y="1201.30" font-size="15.4" fill="#000" text-anchor="end">---,---</text>
<text x="833.6" y="1201.30" font-size="15.4">m/s<tspan font-size="10" dy="-3">2</tspan></text>
<text x="470.90" y="1219.85" font-size="15.4" fill="#000">Mittlere Bremskraft Auslauf 1</text>
<text x="702.10" y="1219.85" font-size="15.4" fill="#000">F<tspan font-size="9.9" dy="4.2">1</tspan></text>
<text x="823.80" y="1219.85" font-size="15.4" fill="#000" text-anchor="end">-----,-</text>
<text x="833.60" y="1219.85" font-size="15.4" fill="#000">N</text>
<text x="470.90" y="1238.40" font-size="15.4" fill="#000">Mittlere Verzögerung Auslauf 2</text>
<text x="702.10" y="1238.40" font-size="15.4" fill="#000">a<tspan font-size="9.9" dy="4.2">2</tspan></text>
<text x="823.80" y="1238.40" font-size="15.4" fill="#000" text-anchor="end">---,---</text>
<text x="833.6" y="1238.40" font-size="15.4">m/s<tspan font-size="10" dy="-3">2</tspan></text>
<text x="470.90" y="1256.95" font-size="15.4" fill="#000">Mittlere Bremskraft Auslauf 2</text>
<text x="702.10" y="1256.95" font-size="15.4" fill="#000">F<tspan font-size="9.9" dy="4.2">2</tspan></text>
<text x="823.80" y="1256.95" font-size="15.4" fill="#000" text-anchor="end">-----,-</text>
<text x="833.60" y="1256.95" font-size="15.4" fill="#000">N</text>
<text x="470.90" y="1283.10" font-size="15.4" fill="#000">Kraft der Rotierenden Masse</text>
<text x="702.10" y="1283.10" font-size="15.4" fill="#000">F<tspan font-size="9.9" dy="4.2">rot-Gesamt</tspan></text>
<text x="823.80" y="1283.10" font-size="15.4" fill="#000" text-anchor="end">-----,-</text>
<text x="833.60" y="1283.10" font-size="15.4" fill="#000">N</text>
<text x="470.90" y="1307.40" font-size="15.4" fill="#000">Rotierende Gesamt-Masse</text>
<text x="702.10" y="1307.40" font-size="15.4" fill="#000">m<tspan font-size="9.9" dy="4.2">rot-Gesamt</tspan></text>
<text x="823.80" y="1307.40" font-size="15.4" fill="#000" text-anchor="end">310,0</text>
<text x="833.60" y="1307.40" font-size="15.4" fill="#000">kg</text>
<text x="470.90" y="1326.00" font-size="15.4" fill="#000">Rotierende Prüfstands-Masse</text>
<text x="702.10" y="1326.00" font-size="15.4" fill="#000">m<tspan font-size="9.9" dy="4.2">rot-Prüfstand</tspan></text>
<text x="823.80" y="1326.00" font-size="15.4" fill="#000" text-anchor="end">250,0</text>
<text x="833.60" y="1326.00" font-size="15.4" fill="#000">kg</text>
<text x="470.90" y="1344.40" font-size="15.4" fill="#000">Rotierende Fahrzeug-Masse</text>
<text x="702.10" y="1344.40" font-size="15.4" fill="#000">m<tspan font-size="9.9" dy="4.2">rot-Fahrzeug</tspan></text>
<text x="823.80" y="1344.40" font-size="15.4" fill="#000" text-anchor="end">60,0</text>
<text x="833.60" y="1344.40" font-size="15.4" fill="#000">kg</text>
<path d="M155.1,32.4 L151.9,31.3 L148.5,30.3 L145.1,29.4 L141.5,28.5 L137.9,27.8 L134.2,27.1 L130.4,26.5 L126.5,26.0 L122.6,25.6 L118.6,25.3 L114.7,25.1 L110.7,25.0 L106.7,25.0 L102.7,25.1 L98.7,25.3 L94.7,25.5 L90.8,25.9 L86.9,26.4 L83.1,26.9 L79.3,27.5 L75.7,28.3 L72.1,29.1 L68.6,30.0 L65.2,31.0 L62.0,32.0 L58.8,33.2 L55.8,34.4 L53.0,35.7 L50.3,37.0 L47.7,38.5 L45.3,39.9 L43.1,41.5 L41.1,43.0 L39.2,44.7 L37.6,46.3 L36.1,48.0 L34.8,49.8 L33.8,51.5 L32.9,53.3 L32.2,55.1 L31.8,56.9 L31.5,58.8 L31.5,60.6 L31.7,62.4 L32.1,64.3 L32.7,66.1 L33.5,67.9 L34.5,69.6 L35.7,71.4 L37.1,73.1 L44.9,72.3 L43.6,70.8 L42.5,69.2 L41.5,67.6 L40.8,66.0 L40.2,64.4 L39.8,62.7 L39.5,61.1 L39.5,59.5 L39.7,57.8 L40.0,56.2 L40.5,54.5 L41.3,52.9 L42.2,51.3 L43.2,49.7 L44.5,48.2 L45.9,46.7 L47.5,45.2 L49.3,43.8 L51.2,42.4 L53.3,41.0 L55.5,39.8 L57.9,38.5 L60.4,37.3 L63.1,36.2 L65.8,35.2 L68.7,34.2 L71.7,33.3 L74.8,32.4 L78.0,31.7 L81.2,31.0 L84.6,30.4 L88.0,29.9 L91.4,29.4 L94.9,29.1 L98.5,28.8 L102.0,28.6 L105.6,28.5 L109.2,28.5 L112.8,28.6 L116.3,28.7 L119.9,29.0 L123.4,29.3 L126.9,29.7 L130.7,29.8 L134.5,29.9 L138.3,30.2 L142.2,30.5 L146.1,31.0 L150.0,31.5 L153.8,32.2 Z" fill="#000"/>
<g transform="translate(108.0,60.0) scale(76.5,35.0)" fill="#000"><polygon points="0.4313,-0.8465 0.4865,-1.0199 0.2638,-1.0988 0.1975,-0.9292"/><polygon points="0.0497,-0.9487 0.0296,-1.1296 -0.2059,-1.1111 -0.1975,-0.9292"/><polygon points="-0.3482,-0.8839 -0.4415,-1.0402 -0.6481,-0.9256 -0.5651,-0.7637"/><polygon points="-0.6659,-0.6776 -0.8129,-0.7850 -0.9583,-0.5988 -0.8185,-0.4822"/><polygon points="-0.8603,-0.4030 -1.0355,-0.4524 -1.1069,-0.2272 -0.9353,-0.1666"/><polygon points="-0.9495,-0.0298 -1.1300,-0.0059 -1.1065,0.2291 -0.9249,0.2169"/></g>
<polygon points="34,76.2 43,71 53,73.6 53,76.2" fill="#000"/>
<text x="57.5" y="68.2" font-size="40" font-weight="bold" font-style="italic" textLength="121" lengthAdjust="spacingAndGlyphs" fill="#000" stroke="#000" stroke-width="2.2" stroke-linejoin="round">ISR</text>
<path d="M40,74.2 L356,74.2 L356,76.6 L36,76.6 Z" fill="#000"/>
<text x="56.5" y="94.8" font-size="19.5" font-weight="bold" font-style="italic" textLength="172" lengthAdjust="spacingAndGlyphs" fill="#000" stroke="#000" stroke-width="1.3" stroke-linejoin="round">IS-RACING</text>
<path d="M172,50.6 L247,50.6 L263,33" fill="none" stroke="#000" stroke-width="1.1"/>
<path d="M172,53.4 L249,53.4 L265,38.5" fill="none" stroke="#000" stroke-width="1.1"/>
<path d="M254,50.6 L272,50.6 L278,42.6 L284,42.6" fill="none" stroke="#000" stroke-width="1.1"/>
<path d="M285,47.2 L304,47.2 L306,49.4 L334.6,49.4" fill="none" stroke="#000" stroke-width="1.1"/>
<path d="M165,57.6 L356,57.6" fill="none" stroke="#000" stroke-width="1.1"/>
<path d="M170,62.5 L263,62.5 L276,62.5 L282,68.2 L293,68.2 L294,66.5 L312,66.5" fill="none" stroke="#000" stroke-width="1.1"/>
<path d="M182,66.5 L260,66.5 L262,68.2 L282,68.2" fill="none" stroke="#000" stroke-width="1.1"/>
<line x1="223" y1="53.4" x2="231" y2="53.4" stroke="#000" stroke-width="2.6" stroke-linecap="round"/>
<line x1="312" y1="49.4" x2="320" y2="49.4" stroke="#000" stroke-width="2.6" stroke-linecap="round"/>
<line x1="264" y1="62.5" x2="271" y2="62.5" stroke="#000" stroke-width="2.6" stroke-linecap="round"/>
<line x1="259" y1="35.5" x2="264" y2="31" stroke="#000" stroke-width="2.6" stroke-linecap="round"/>
<circle cx="338.7" cy="49.4" r="3.3" fill="#fff" stroke="#000" stroke-width="1.8"/>
<circle cx="360.0" cy="57.6" r="3.3" fill="#fff" stroke="#000" stroke-width="1.8"/>
<circle cx="315.9" cy="66.5" r="3.3" fill="#fff" stroke="#000" stroke-width="1.8"/>
<circle cx="265.5" cy="44.5" r="1.3" fill="none" stroke="#000" stroke-width="0.8"/>
<circle cx="283.5" cy="48" r="1.3" fill="none" stroke="#000" stroke-width="0.8"/>
<text x="173" y="32.5" font-size="27" textLength="148" lengthAdjust="spacingAndGlyphs" fill="#000" stroke="#000" stroke-width="0.3" stroke-linejoin="round">BOOSTED</text>
<text x="325.5" y="36" font-size="11" textLength="17" lengthAdjust="spacingAndGlyphs" fill="none" stroke="#000" stroke-width="0.6">by</text>
<text x="375.60" y="30.80" font-size="15.4" fill="#000">Theodor-Heuss-Ring 90a</text>
<text x="375.60" y="49.40" font-size="15.4" fill="#000">51377 Leverkusen</text>
<text x="375.60" y="68.00" font-size="15.4" fill="#000">email: info@is-racing.de</text>
<text x="375.60" y="86.60" font-size="15.4" fill="#000">Tel. 0214-2600278</text>
<text x="423.70" y="238.20" font-size="61.1" fill="#000" text-anchor="middle" stroke="#000" stroke-width="0.45">Software</text>
</g>
<g transform="translate(893.4,-1.1)">
<rect x="10.5" y="895.6" width="878.7" height="27" fill="#e4e4e4"/>
<rect x="10.5" y="1152.5" width="878.7" height="27" fill="#e4e4e4"/>
<line x1="10.50" y1="894.80" x2="889.20" y2="894.80" stroke="#afafaf" stroke-width="1.8"/>
<line x1="10.50" y1="923.20" x2="889.20" y2="923.20" stroke="#bdbdbd" stroke-width="1.5"/>
<line x1="10.50" y1="1151.70" x2="889.20" y2="1151.70" stroke="#afafaf" stroke-width="1.8"/>
<line x1="10.50" y1="1180.30" x2="889.20" y2="1180.30" stroke="#bdbdbd" stroke-width="1.5"/>
<line x1="450.50" y1="894.80" x2="450.50" y2="1358.50" stroke="#bcbcbc" stroke-width="1.5"/>
<line x1="10.50" y1="103.00" x2="889.20" y2="103.00" stroke="#c6c6c6" stroke-width="1.3"/>
<line x1="10.50" y1="167.00" x2="889.20" y2="167.00" stroke="#c6c6c6" stroke-width="1.3"/>
<line x1="10.50" y1="266.70" x2="889.20" y2="266.70" stroke="#c6c6c6" stroke-width="1.3"/>
<line x1="10.50" y1="295.20" x2="889.20" y2="295.20" stroke="#c6c6c6" stroke-width="1.3"/>
<line x1="762.00" y1="2.50" x2="762.00" y2="103.00" stroke="#c6c6c6" stroke-width="1.5"/>
<rect x="10.5" y="2.5" width="878.7" height="1356" fill="none" stroke="#c6c6c6" stroke-width="1.4"/>
<text x="31.00" y="918.00" font-size="22.8" fill="#000" font-style="italic">Leistungsdaten</text>
<text x="470.40" y="918.00" font-size="22.8" fill="#000" font-style="italic">Umgebungsdaten</text>
<text x="31.00" y="1175.00" font-size="22.8" fill="#000" font-style="italic">Schlupf</text>
<text x="470.40" y="1175.00" font-size="22.8" fill="#000" font-style="italic">Rotierende Masse</text>
<text x="11.00" y="1375.00" font-size="10" fill="#000">LPS 3000 PKW V 3.00.000 (17.12.2013)</text>
<text x="461.30" y="1375.00" font-size="10" fill="#000">(100/000/0000/000/0000)</text>
<text x="889.00" y="1375.00" font-size="10" fill="#000" text-anchor="end">LPS-EURO V1.37.010</text>
<text x="20.90" y="123.80" font-size="15.4" fill="#000">Fahrzeug-Typ:</text>
<text x="126.80" y="123.80" font-size="15.4" fill="#000">m2</text>
<text x="20.90" y="142.20" font-size="15.4" fill="#000">Kennzeichen:</text>
<text x="20.90" y="160.70" font-size="15.4" fill="#000">Prüfer:</text>
<text x="879.20" y="123.80" font-size="15.4" fill="#000" text-anchor="end">Otto-Motor / Turbolader (wassergekühlt)</text>
<text x="879.00" y="142.20" font-size="15.4" fill="#000" text-anchor="end">Schaltgetriebe</text>
<text x="879.00" y="160.70" font-size="15.4" fill="#000" text-anchor="end">Front-Antrieb</text>
<text x="20.60" y="288.30" font-size="15.4" fill="#000">Meßdatum: 19.01.2017 (16:51)</text>
<text x="879.30" y="288.30" font-size="15.4" fill="#000" text-anchor="end">Seite 2</text>
<line x1="51.60" y1="331.40" x2="51.60" y2="844.40" stroke="#b8b8b8" stroke-width="1.3"/>
<line x1="72.92" y1="331.40" x2="72.92" y2="844.40" stroke="#d2d2d2" stroke-width="1.2"/>
<line x1="94.25" y1="331.40" x2="94.25" y2="844.40" stroke="#d2d2d2" stroke-width="1.2"/>
<line x1="115.57" y1="331.40" x2="115.57" y2="844.40" stroke="#d2d2d2" stroke-width="1.2"/>
<line x1="136.89" y1="331.40" x2="136.89" y2="844.40" stroke="#d2d2d2" stroke-width="1.2"/>
<line x1="158.21" y1="331.40" x2="158.21" y2="844.40" stroke="#b8b8b8" stroke-width="1.3"/>
<line x1="179.54" y1="331.40" x2="179.54" y2="844.40" stroke="#d2d2d2" stroke-width="1.2"/>
<line x1="200.86" y1="331.40" x2="200.86" y2="844.40" stroke="#d2d2d2" stroke-width="1.2"/>
<line x1="222.18" y1="331.40" x2="222.18" y2="844.40" stroke="#d2d2d2" stroke-width="1.2"/>
<line x1="243.51" y1="331.40" x2="243.51" y2="844.40" stroke="#d2d2d2" stroke-width="1.2"/>
<line x1="264.83" y1="331.40" x2="264.83" y2="844.40" stroke="#b8b8b8" stroke-width="1.3"/>
<line x1="286.15" y1="331.40" x2="286.15" y2="844.40" stroke="#d2d2d2" stroke-width="1.2"/>
<line x1="307.47" y1="331.40" x2="307.47" y2="844.40" stroke="#d2d2d2" stroke-width="1.2"/>
<line x1="328.80" y1="331.40" x2="328.80" y2="844.40" stroke="#d2d2d2" stroke-width="1.2"/>
<line x1="350.12" y1="331.40" x2="350.12" y2="844.40" stroke="#d2d2d2" stroke-width="1.2"/>
<line x1="371.44" y1="331.40" x2="371.44" y2="844.40" stroke="#b8b8b8" stroke-width="1.3"/>
<line x1="392.77" y1="331.40" x2="392.77" y2="844.40" stroke="#d2d2d2" stroke-width="1.2"/>
<line x1="414.09" y1="331.40" x2="414.09" y2="844.40" stroke="#d2d2d2" stroke-width="1.2"/>
<line x1="435.41" y1="331.40" x2="435.41" y2="844.40" stroke="#d2d2d2" stroke-width="1.2"/>
<line x1="456.73" y1="331.40" x2="456.73" y2="844.40" stroke="#d2d2d2" stroke-width="1.2"/>
<line x1="478.06" y1="331.40" x2="478.06" y2="844.40" stroke="#b8b8b8" stroke-width="1.3"/>
<line x1="499.38" y1="331.40" x2="499.38" y2="844.40" stroke="#d2d2d2" stroke-width="1.2"/>
<line x1="520.70" y1="331.40" x2="520.70" y2="844.40" stroke="#d2d2d2" stroke-width="1.2"/>
<line x1="542.03" y1="331.40" x2="542.03" y2="844.40" stroke="#d2d2d2" stroke-width="1.2"/>
<line x1="563.35" y1="331.40" x2="563.35" y2="844.40" stroke="#d2d2d2" stroke-width="1.2"/>
<line x1="584.67" y1="331.40" x2="584.67" y2="844.40" stroke="#b8b8b8" stroke-width="1.3"/>
<line x1="605.99" y1="331.40" x2="605.99" y2="844.40" stroke="#d2d2d2" stroke-width="1.2"/>
<line x1="627.32" y1="331.40" x2="627.32" y2="844.40" stroke="#d2d2d2" stroke-width="1.2"/>
<line x1="648.64" y1="331.40" x2="648.64" y2="844.40" stroke="#d2d2d2" stroke-width="1.2"/>
<line x1="669.96" y1="331.40" x2="669.96" y2="844.40" stroke="#d2d2d2" stroke-width="1.2"/>
<line x1="691.29" y1="331.40" x2="691.29" y2="844.40" stroke="#b8b8b8" stroke-width="1.3"/>
<line x1="712.61" y1="331.40" x2="712.61" y2="844.40" stroke="#d2d2d2" stroke-width="1.2"/>
<line x1="733.93" y1="331.40" x2="733.93" y2="844.40" stroke="#d2d2d2" stroke-width="1.2"/>
<line x1="755.25" y1="331.40" x2="755.25" y2="844.40" stroke="#d2d2d2" stroke-width="1.2"/>
<line x1="776.58" y1="331.40" x2="776.58" y2="844.40" stroke="#d2d2d2" stroke-width="1.2"/>
<line x1="797.90" y1="331.40" x2="797.90" y2="844.40" stroke="#b8b8b8" stroke-width="1.3"/>
<line x1="51.60" y1="844.40" x2="797.90" y2="844.40" stroke="#b8b8b8" stroke-width="1.3"/>
<line x1="51.60" y1="823.88" x2="797.90" y2="823.88" stroke="#d2d2d2" stroke-width="1.2"/>
<line x1="51.60" y1="803.36" x2="797.90" y2="803.36" stroke="#d2d2d2" stroke-width="1.2"/>
<line x1="51.60" y1="782.84" x2="797.90" y2="782.84" stroke="#d2d2d2" stroke-width="1.2"/>
<line x1="51.60" y1="762.32" x2="797.90" y2="762.32" stroke="#d2d2d2" stroke-width="1.2"/>
<line x1="51.60" y1="741.80" x2="797.90" y2="741.80" stroke="#b8b8b8" stroke-width="1.3"/>
<line x1="51.60" y1="721.28" x2="797.90" y2="721.28" stroke="#d2d2d2" stroke-width="1.2"/>
<line x1="51.60" y1="700.76" x2="797.90" y2="700.76" stroke="#d2d2d2" stroke-width="1.2"/>
<line x1="51.60" y1="680.24" x2="797.90" y2="680.24" stroke="#d2d2d2" stroke-width="1.2"/>
<line x1="51.60" y1="659.72" x2="797.90" y2="659.72" stroke="#d2d2d2" stroke-width="1.2"/>
<line x1="51.60" y1="639.20" x2="797.90" y2="639.20" stroke="#b8b8b8" stroke-width="1.3"/>
<line x1="51.60" y1="618.68" x2="797.90" y2="618.68" stroke="#d2d2d2" stroke-width="1.2"/>
<line x1="51.60" y1="598.16" x2="797.90" y2="598.16" stroke="#d2d2d2" stroke-width="1.2"/>
<line x1="51.60" y1="577.64" x2="797.90" y2="577.64" stroke="#d2d2d2" stroke-width="1.2"/>
<line x1="51.60" y1="557.12" x2="797.90" y2="557.12" stroke="#d2d2d2" stroke-width="1.2"/>
<line x1="51.60" y1="536.60" x2="797.90" y2="536.60" stroke="#b8b8b8" stroke-width="1.3"/>
<line x1="51.60" y1="516.08" x2="797.90" y2="516.08" stroke="#d2d2d2" stroke-width="1.2"/>
<line x1="51.60" y1="495.56" x2="797.90" y2="495.56" stroke="#d2d2d2" stroke-width="1.2"/>
<line x1="51.60" y1="475.04" x2="797.90" y2="475.04" stroke="#d2d2d2" stroke-width="1.2"/>
<line x1="51.60" y1="454.52" x2="797.90" y2="454.52" stroke="#d2d2d2" stroke-width="1.2"/>
<line x1="51.60" y1="434.00" x2="797.90" y2="434.00" stroke="#b8b8b8" stroke-width="1.3"/>
<line x1="51.60" y1="413.48" x2="797.90" y2="413.48" stroke="#d2d2d2" stroke-width="1.2"/>
<line x1="51.60" y1="392.96" x2="797.90" y2="392.96" stroke="#d2d2d2" stroke-width="1.2"/>
<line x1="51.60" y1="372.44" x2="797.90" y2="372.44" stroke="#d2d2d2" stroke-width="1.2"/>
<line x1="51.60" y1="351.92" x2="797.90" y2="351.92" stroke="#d2d2d2" stroke-width="1.2"/>
<line x1="51.60" y1="331.40" x2="797.90" y2="331.40" stroke="#b8b8b8" stroke-width="1.3"/>
<line x1="72.92" y1="331.40" x2="72.92" y2="343.90" stroke="#969696" stroke-width="1.2"/>
<line x1="72.92" y1="832.40" x2="72.92" y2="844.40" stroke="#969696" stroke-width="1.2"/>
<line x1="94.25" y1="331.40" x2="94.25" y2="343.90" stroke="#969696" stroke-width="1.2"/>
<line x1="94.25" y1="832.40" x2="94.25" y2="844.40" stroke="#969696" stroke-width="1.2"/>
<line x1="115.57" y1="331.40" x2="115.57" y2="343.90" stroke="#969696" stroke-width="1.2"/>
<line x1="115.57" y1="832.40" x2="115.57" y2="844.40" stroke="#969696" stroke-width="1.2"/>
<line x1="136.89" y1="331.40" x2="136.89" y2="343.90" stroke="#969696" stroke-width="1.2"/>
<line x1="136.89" y1="832.40" x2="136.89" y2="844.40" stroke="#969696" stroke-width="1.2"/>
<line x1="158.21" y1="331.40" x2="158.21" y2="343.90" stroke="#969696" stroke-width="1.2"/>
<line x1="158.21" y1="832.40" x2="158.21" y2="844.40" stroke="#969696" stroke-width="1.2"/>
<line x1="179.54" y1="331.40" x2="179.54" y2="343.90" stroke="#969696" stroke-width="1.2"/>
<line x1="179.54" y1="832.40" x2="179.54" y2="844.40" stroke="#969696" stroke-width="1.2"/>
<line x1="200.86" y1="331.40" x2="200.86" y2="343.90" stroke="#969696" stroke-width="1.2"/>
<line x1="200.86" y1="832.40" x2="200.86" y2="844.40" stroke="#969696" stroke-width="1.2"/>
<line x1="222.18" y1="331.40" x2="222.18" y2="343.90" stroke="#969696" stroke-width="1.2"/>
<line x1="222.18" y1="832.40" x2="222.18" y2="844.40" stroke="#969696" stroke-width="1.2"/>
<line x1="243.51" y1="331.40" x2="243.51" y2="343.90" stroke="#969696" stroke-width="1.2"/>
<line x1="243.51" y1="832.40" x2="243.51" y2="844.40" stroke="#969696" stroke-width="1.2"/>
<line x1="264.83" y1="331.40" x2="264.83" y2="343.90" stroke="#969696" stroke-width="1.2"/>
<line x1="264.83" y1="832.40" x2="264.83" y2="844.40" stroke="#969696" stroke-width="1.2"/>
<line x1="286.15" y1="331.40" x2="286.15" y2="343.90" stroke="#969696" stroke-width="1.2"/>
<line x1="286.15" y1="832.40" x2="286.15" y2="844.40" stroke="#969696" stroke-width="1.2"/>
<line x1="307.47" y1="331.40" x2="307.47" y2="343.90" stroke="#969696" stroke-width="1.2"/>
<line x1="307.47" y1="832.40" x2="307.47" y2="844.40" stroke="#969696" stroke-width="1.2"/>
<line x1="328.80" y1="331.40" x2="328.80" y2="343.90" stroke="#969696" stroke-width="1.2"/>
<line x1="328.80" y1="832.40" x2="328.80" y2="844.40" stroke="#969696" stroke-width="1.2"/>
<line x1="350.12" y1="331.40" x2="350.12" y2="343.90" stroke="#969696" stroke-width="1.2"/>
<line x1="350.12" y1="832.40" x2="350.12" y2="844.40" stroke="#969696" stroke-width="1.2"/>
<line x1="371.44" y1="331.40" x2="371.44" y2="343.90" stroke="#969696" stroke-width="1.2"/>
<line x1="371.44" y1="832.40" x2="371.44" y2="844.40" stroke="#969696" stroke-width="1.2"/>
<line x1="392.77" y1="331.40" x2="392.77" y2="343.90" stroke="#969696" stroke-width="1.2"/>
<line x1="392.77" y1="832.40" x2="392.77" y2="844.40" stroke="#969696" stroke-width="1.2"/>
<line x1="414.09" y1="331.40" x2="414.09" y2="343.90" stroke="#969696" stroke-width="1.2"/>
<line x1="414.09" y1="832.40" x2="414.09" y2="844.40" stroke="#969696" stroke-width="1.2"/>
<line x1="435.41" y1="331.40" x2="435.41" y2="343.90" stroke="#969696" stroke-width="1.2"/>
<line x1="435.41" y1="832.40" x2="435.41" y2="844.40" stroke="#969696" stroke-width="1.2"/>
<line x1="456.73" y1="331.40" x2="456.73" y2="343.90" stroke="#969696" stroke-width="1.2"/>
<line x1="456.73" y1="832.40" x2="456.73" y2="844.40" stroke="#969696" stroke-width="1.2"/>
<line x1="478.06" y1="331.40" x2="478.06" y2="343.90" stroke="#969696" stroke-width="1.2"/>
<line x1="478.06" y1="832.40" x2="478.06" y2="844.40" stroke="#969696" stroke-width="1.2"/>
<line x1="499.38" y1="331.40" x2="499.38" y2="343.90" stroke="#969696" stroke-width="1.2"/>
<line x1="499.38" y1="832.40" x2="499.38" y2="844.40" stroke="#969696" stroke-width="1.2"/>
<line x1="520.70" y1="331.40" x2="520.70" y2="343.90" stroke="#969696" stroke-width="1.2"/>
<line x1="520.70" y1="832.40" x2="520.70" y2="844.40" stroke="#969696" stroke-width="1.2"/>
<line x1="542.03" y1="331.40" x2="542.03" y2="343.90" stroke="#969696" stroke-width="1.2"/>
<line x1="542.03" y1="832.40" x2="542.03" y2="844.40" stroke="#969696" stroke-width="1.2"/>
<line x1="563.35" y1="331.40" x2="563.35" y2="343.90" stroke="#969696" stroke-width="1.2"/>
<line x1="563.35" y1="832.40" x2="563.35" y2="844.40" stroke="#969696" stroke-width="1.2"/>
<line x1="584.67" y1="331.40" x2="584.67" y2="343.90" stroke="#969696" stroke-width="1.2"/>
<line x1="584.67" y1="832.40" x2="584.67" y2="844.40" stroke="#969696" stroke-width="1.2"/>
<line x1="605.99" y1="331.40" x2="605.99" y2="343.90" stroke="#969696" stroke-width="1.2"/>
<line x1="605.99" y1="832.40" x2="605.99" y2="844.40" stroke="#969696" stroke-width="1.2"/>
<line x1="627.32" y1="331.40" x2="627.32" y2="343.90" stroke="#969696" stroke-width="1.2"/>
<line x1="627.32" y1="832.40" x2="627.32" y2="844.40" stroke="#969696" stroke-width="1.2"/>
<line x1="648.64" y1="331.40" x2="648.64" y2="343.90" stroke="#969696" stroke-width="1.2"/>
<line x1="648.64" y1="832.40" x2="648.64" y2="844.40" stroke="#969696" stroke-width="1.2"/>
<line x1="669.96" y1="331.40" x2="669.96" y2="343.90" stroke="#969696" stroke-width="1.2"/>
<line x1="669.96" y1="832.40" x2="669.96" y2="844.40" stroke="#969696" stroke-width="1.2"/>
<line x1="691.29" y1="331.40" x2="691.29" y2="343.90" stroke="#969696" stroke-width="1.2"/>
<line x1="691.29" y1="832.40" x2="691.29" y2="844.40" stroke="#969696" stroke-width="1.2"/>
<line x1="712.61" y1="331.40" x2="712.61" y2="343.90" stroke="#969696" stroke-width="1.2"/>
<line x1="712.61" y1="832.40" x2="712.61" y2="844.40" stroke="#969696" stroke-width="1.2"/>
<line x1="733.93" y1="331.40" x2="733.93" y2="343.90" stroke="#969696" stroke-width="1.2"/>
<line x1="733.93" y1="832.40" x2="733.93" y2="844.40" stroke="#969696" stroke-width="1.2"/>
<line x1="755.25" y1="331.40" x2="755.25" y2="343.90" stroke="#969696" stroke-width="1.2"/>
<line x1="755.25" y1="832.40" x2="755.25" y2="844.40" stroke="#969696" stroke-width="1.2"/>
<line x1="776.58" y1="331.40" x2="776.58" y2="343.90" stroke="#969696" stroke-width="1.2"/>
<line x1="776.58" y1="832.40" x2="776.58" y2="844.40" stroke="#969696" stroke-width="1.2"/>
<line x1="51.60" y1="823.88" x2="58.60" y2="823.88" stroke="#969696" stroke-width="1.2"/>
<line x1="790.90" y1="823.88" x2="797.90" y2="823.88" stroke="#969696" stroke-width="1.2"/>
<line x1="51.60" y1="803.36" x2="58.60" y2="803.36" stroke="#969696" stroke-width="1.2"/>
<line x1="790.90" y1="803.36" x2="797.90" y2="803.36" stroke="#969696" stroke-width="1.2"/>
<line x1="51.60" y1="782.84" x2="58.60" y2="782.84" stroke="#969696" stroke-width="1.2"/>
<line x1="790.90" y1="782.84" x2="797.90" y2="782.84" stroke="#969696" stroke-width="1.2"/>
<line x1="51.60" y1="762.32" x2="58.60" y2="762.32" stroke="#969696" stroke-width="1.2"/>
<line x1="790.90" y1="762.32" x2="797.90" y2="762.32" stroke="#969696" stroke-width="1.2"/>
<line x1="51.60" y1="741.80" x2="58.60" y2="741.80" stroke="#969696" stroke-width="1.2"/>
<line x1="790.90" y1="741.80" x2="797.90" y2="741.80" stroke="#969696" stroke-width="1.2"/>
<line x1="51.60" y1="721.28" x2="58.60" y2="721.28" stroke="#969696" stroke-width="1.2"/>
<line x1="790.90" y1="721.28" x2="797.90" y2="721.28" stroke="#969696" stroke-width="1.2"/>
<line x1="51.60" y1="700.76" x2="58.60" y2="700.76" stroke="#969696" stroke-width="1.2"/>
<line x1="790.90" y1="700.76" x2="797.90" y2="700.76" stroke="#969696" stroke-width="1.2"/>
<line x1="51.60" y1="680.24" x2="58.60" y2="680.24" stroke="#969696" stroke-width="1.2"/>
<line x1="790.90" y1="680.24" x2="797.90" y2="680.24" stroke="#969696" stroke-width="1.2"/>
<line x1="51.60" y1="659.72" x2="58.60" y2="659.72" stroke="#969696" stroke-width="1.2"/>
<line x1="790.90" y1="659.72" x2="797.90" y2="659.72" stroke="#969696" stroke-width="1.2"/>
<line x1="51.60" y1="639.20" x2="58.60" y2="639.20" stroke="#969696" stroke-width="1.2"/>
<line x1="790.90" y1="639.20" x2="797.90" y2="639.20" stroke="#969696" stroke-width="1.2"/>
<line x1="51.60" y1="618.68" x2="58.60" y2="618.68" stroke="#969696" stroke-width="1.2"/>
<line x1="790.90" y1="618.68" x2="797.90" y2="618.68" stroke="#969696" stroke-width="1.2"/>
<line x1="51.60" y1="598.16" x2="58.60" y2="598.16" stroke="#969696" stroke-width="1.2"/>
<line x1="790.90" y1="598.16" x2="797.90" y2="598.16" stroke="#969696" stroke-width="1.2"/>
<line x1="51.60" y1="577.64" x2="58.60" y2="577.64" stroke="#969696" stroke-width="1.2"/>
<line x1="790.90" y1="577.64" x2="797.90" y2="577.64" stroke="#969696" stroke-width="1.2"/>
<line x1="51.60" y1="557.12" x2="58.60" y2="557.12" stroke="#969696" stroke-width="1.2"/>
<line x1="790.90" y1="557.12" x2="797.90" y2="557.12" stroke="#969696" stroke-width="1.2"/>
<line x1="51.60" y1="536.60" x2="58.60" y2="536.60" stroke="#969696" stroke-width="1.2"/>
<line x1="790.90" y1="536.60" x2="797.90" y2="536.60" stroke="#969696" stroke-width="1.2"/>
<line x1="51.60" y1="516.08" x2="58.60" y2="516.08" stroke="#969696" stroke-width="1.2"/>
<line x1="790.90" y1="516.08" x2="797.90" y2="516.08" stroke="#969696" stroke-width="1.2"/>
<line x1="51.60" y1="495.56" x2="58.60" y2="495.56" stroke="#969696" stroke-width="1.2"/>
<line x1="790.90" y1="495.56" x2="797.90" y2="495.56" stroke="#969696" stroke-width="1.2"/>
<line x1="51.60" y1="475.04" x2="58.60" y2="475.04" stroke="#969696" stroke-width="1.2"/>
<line x1="790.90" y1="475.04" x2="797.90" y2="475.04" stroke="#969696" stroke-width="1.2"/>
<line x1="51.60" y1="454.52" x2="58.60" y2="454.52" stroke="#969696" stroke-width="1.2"/>
<line x1="790.90" y1="454.52" x2="797.90" y2="454.52" stroke="#969696" stroke-width="1.2"/>
<line x1="51.60" y1="434.00" x2="58.60" y2="434.00" stroke="#969696" stroke-width="1.2"/>
<line x1="790.90" y1="434.00" x2="797.90" y2="434.00" stroke="#969696" stroke-width="1.2"/>
<line x1="51.60" y1="413.48" x2="58.60" y2="413.48" stroke="#969696" stroke-width="1.2"/>
<line x1="790.90" y1="413.48" x2="797.90" y2="413.48" stroke="#969696" stroke-width="1.2"/>
<line x1="51.60" y1="392.96" x2="58.60" y2="392.96" stroke="#969696" stroke-width="1.2"/>
<line x1="790.90" y1="392.96" x2="797.90" y2="392.96" stroke="#969696" stroke-width="1.2"/>
<line x1="51.60" y1="372.44" x2="58.60" y2="372.44" stroke="#969696" stroke-width="1.2"/>
<line x1="790.90" y1="372.44" x2="797.90" y2="372.44" stroke="#969696" stroke-width="1.2"/>
<line x1="51.60" y1="351.92" x2="58.60" y2="351.92" stroke="#969696" stroke-width="1.2"/>
<line x1="790.90" y1="351.92" x2="797.90" y2="351.92" stroke="#969696" stroke-width="1.2"/>
<rect x="51.60" y="331.40" width="746.30" height="513.00" fill="none" stroke="#b0b0b0" stroke-width="1.2"/>
<line x1="70.20" y1="803.60" x2="172.10" y2="803.60" stroke="#606060" stroke-width="1.2"/>
<line x1="72.92" y1="791.70" x2="72.92" y2="815.80" stroke="#606060" stroke-width="1.2"/>
<line x1="94.25" y1="791.70" x2="94.25" y2="815.80" stroke="#606060" stroke-width="1.2"/>
<line x1="115.57" y1="791.70" x2="115.57" y2="815.80" stroke="#606060" stroke-width="1.2"/>
<line x1="136.89" y1="791.70" x2="136.89" y2="815.80" stroke="#606060" stroke-width="1.2"/>
<line x1="158.21" y1="791.70" x2="158.21" y2="815.80" stroke="#606060" stroke-width="1.2"/>
<text transform="translate(46.0,836.10) rotate(-90)" font-size="15.4" text-anchor="end" fill="#000">0</text>
<text transform="translate(822.8,836.10) rotate(-90)" font-size="15" text-anchor="end" fill="#e8561c">0</text>
<text transform="translate(46.0,733.50) rotate(-90)" font-size="15.4" text-anchor="end" fill="#000">100</text>
<text transform="translate(822.8,733.50) rotate(-90)" font-size="15" text-anchor="end" fill="#e8561c">100</text>
<text transform="translate(46.0,630.90) rotate(-90)" font-size="15.4" text-anchor="end" fill="#000">200</text>
<text transform="translate(822.8,630.90) rotate(-90)" font-size="15" text-anchor="end" fill="#e8561c">200</text>
<text transform="translate(46.0,528.30) rotate(-90)" font-size="15.4" text-anchor="end" fill="#000">300</text>
<text transform="translate(822.8,528.30) rotate(-90)" font-size="15" text-anchor="end" fill="#e8561c">300</text>
<text transform="translate(46.0,425.70) rotate(-90)" font-size="15.4" text-anchor="end" fill="#000">400</text>
<text transform="translate(822.8,425.70) rotate(-90)" font-size="15" text-anchor="end" fill="#e8561c">400</text>
<text transform="translate(46.0,323.10) rotate(-90)" font-size="15.4" text-anchor="end" fill="#000">500</text>
<text transform="translate(822.8,323.10) rotate(-90)" font-size="15" text-anchor="end" fill="#e8561c">500</text>
<text x="61.60" y="865.40" font-size="15" fill="#000" text-anchor="middle">0</text>
<text x="162.25" y="865.40" font-size="15" fill="#000" text-anchor="middle">1000</text>
<text x="268.40" y="865.40" font-size="15" fill="#000" text-anchor="middle">2000</text>
<text x="375.40" y="865.40" font-size="15" fill="#000" text-anchor="middle">3000</text>
<text x="482.00" y="865.40" font-size="15" fill="#000" text-anchor="middle">4000</text>
<text x="588.60" y="865.40" font-size="15" fill="#000" text-anchor="middle">5000</text>
<text x="695.30" y="865.40" font-size="15" fill="#000" text-anchor="middle">6000</text>
<text x="802.70" y="865.40" font-size="15" fill="#000" text-anchor="middle">7000</text>
<text x="879.60" y="879.60" font-size="15" fill="#000" text-anchor="end">n [U/min]</text>
<rect x="62.2" y="345.6" width="112.5" height="83.6" fill="#fff" stroke="#bcbcbc" stroke-width="1.2"/>
<text x="66.50" y="365.80" font-size="15" fill="#1414c8">P-Rad [PS]</text>
<text x="66.50" y="384.40" font-size="15" fill="#218a21">P-Schlepp [PS]</text>
<text x="66.50" y="403.10" font-size="15" fill="#e3121b">P-Norm [PS]</text>
<text x="66.5" y="421.8" font-size="15" fill="#e8561c">M<tspan font-size="9.6" dy="4">Norm</tspan><tspan dy="-4"> [Nm]</tspan></text>
<path d="M253.53,827.88 C255.48,827.69 256.21,827.64 265.26,826.75 C274.30,825.86 293.60,823.98 307.79,822.55 C321.99,821.11 336.28,819.62 350.44,818.13 C364.60,816.65 378.60,815.18 392.77,813.62 C406.93,812.06 422.55,810.10 435.41,808.80 C448.28,807.50 459.33,806.95 469.95,805.82 C480.58,804.69 490.76,803.14 499.17,802.03 C507.57,800.91 513.28,800.20 520.38,799.15 C527.49,798.11 534.69,796.88 541.81,795.77 C548.94,794.66 555.97,793.49 563.14,792.48 C570.30,791.48 577.65,790.76 584.78,789.71 C591.90,788.67 598.83,787.34 605.89,786.23 C612.94,785.11 620.01,784.21 627.10,783.05 C634.19,781.88 641.37,780.51 648.43,779.25 C655.48,777.98 662.38,776.72 669.43,775.45 C676.48,774.19 683.63,772.92 690.75,771.66 C697.88,770.39 705.06,769.23 712.18,767.86 C719.31,766.49 726.45,764.94 733.50,763.45 C740.56,761.96 747.40,760.42 754.51,758.93 C761.62,757.45 769.68,755.74 776.15,754.52 C782.62,753.31 790.45,752.13 793.32,751.65" fill="none" stroke="#218a21" stroke-width="1.8" stroke-linejoin="round" stroke-linecap="round"/>
<path d="M253.53,797.20 C255.48,794.60 259.71,790.76 265.26,781.61 C270.80,772.46 280.91,753.00 286.79,742.31 C292.67,731.63 297.10,723.69 300.54,717.48 C303.99,711.28 305.63,709.55 307.47,705.07 C309.32,700.59 310.37,693.82 311.63,690.60 C312.89,687.39 313.21,687.73 315.04,685.78 C316.87,683.83 319.06,681.68 322.61,678.91 C326.17,676.14 331.75,672.65 336.37,669.16 C340.99,665.67 344.49,662.32 350.33,657.98 C356.18,653.63 364.35,647.96 371.44,643.10 C378.53,638.24 385.76,633.16 392.87,628.84 C399.98,624.51 407.39,620.75 414.09,617.14 C420.79,613.53 429.23,608.95 433.07,607.19 C436.90,605.43 435.34,606.62 437.12,606.57 C438.89,606.52 441.17,607.05 443.73,606.88 C446.29,606.71 446.64,607.29 452.47,605.55 C458.30,603.80 471.04,600.13 478.70,596.42 C486.36,592.71 491.86,588.19 498.42,583.28 C504.98,578.38 510.95,572.15 518.04,566.97 C525.13,561.79 534.40,555.75 540.96,552.20 C547.52,548.64 550.00,548.09 557.38,545.63 C564.75,543.17 577.12,539.25 585.20,537.42 C593.29,535.59 598.90,535.52 605.89,534.65 C612.87,533.78 620.01,533.04 627.10,532.19 C634.19,531.33 641.37,530.46 648.43,529.52 C655.48,528.58 664.05,527.37 669.43,526.55 C674.81,525.72 677.18,525.04 680.73,524.60 C684.28,524.15 686.04,524.10 690.75,523.88 C695.46,523.66 704.06,523.67 708.98,523.26 C713.91,522.85 716.20,521.95 720.28,521.42 C724.37,520.89 729.44,520.34 733.50,520.08 C737.57,519.82 740.63,519.74 744.70,519.88 C748.77,520.01 752.68,519.86 757.92,520.90 C763.16,521.95 771.14,524.63 776.15,526.13 C781.16,527.64 785.53,528.67 787.98,529.93 C790.44,531.20 789.98,532.09 790.86,533.73 C791.75,535.37 792.91,538.77 793.32,539.78" fill="none" stroke="#1414c8" stroke-width="1.8" stroke-linejoin="round" stroke-linecap="round"/>
<path d="M253.53,783.97 C255.48,781.04 260.62,773.49 265.26,766.42 C269.89,759.36 276.61,749.17 281.35,741.59 C286.10,734.02 290.06,727.52 293.72,720.97 C297.38,714.42 300.92,707.24 303.32,702.30 C305.72,697.36 306.73,695.12 308.11,691.32 C309.50,687.52 310.48,682.39 311.63,679.52 C312.79,676.65 313.21,676.15 315.04,674.08 C316.87,672.01 319.86,669.54 322.61,667.11 C325.37,664.68 326.95,663.29 331.57,659.51 C336.19,655.74 343.69,649.61 350.33,644.43 C356.98,639.25 364.35,633.52 371.44,628.43 C378.53,623.33 385.76,618.68 392.87,613.86 C399.98,609.04 407.62,603.82 414.09,599.49 C420.56,595.17 428.07,590.12 431.68,587.90 C435.29,585.68 433.72,586.53 435.73,586.16 C437.74,585.78 439.84,586.67 443.73,585.64 C447.62,584.62 453.25,582.58 459.08,580.00 C464.91,577.42 472.14,574.08 478.70,570.15 C485.25,566.22 491.86,561.58 498.42,556.40 C504.98,551.22 510.95,544.41 518.04,539.06 C525.13,533.71 534.40,528.12 540.96,524.29 C547.52,520.46 550.00,519.35 557.38,516.08 C564.75,512.81 577.12,507.80 585.20,504.69 C593.29,501.58 598.90,499.66 605.89,497.41 C612.87,495.15 620.01,493.11 627.10,491.15 C634.19,489.18 641.37,487.61 648.43,485.61 C655.48,483.61 664.05,480.87 669.43,479.14 C674.81,477.42 677.18,476.34 680.73,475.25 C684.28,474.15 686.04,473.59 690.75,472.58 C695.46,471.57 705.00,470.06 708.98,469.19 C712.96,468.32 710.55,468.59 714.63,467.34 C718.72,466.10 726.86,463.19 733.50,461.70 C740.15,460.21 749.50,459.05 754.51,458.42 C759.52,457.79 759.96,457.91 763.57,457.91 C767.18,457.91 772.08,458.18 776.15,458.42 C780.22,458.66 785.53,458.79 787.98,459.34 C790.44,459.89 790.08,460.37 790.86,461.70 C791.65,463.04 792.37,466.40 792.68,467.34" fill="none" stroke="#e3121b" stroke-width="1.8" stroke-linejoin="round" stroke-linecap="round"/>
<path d="M253.85,621.14 C256.00,612.47 262.45,586.46 266.75,569.12 C271.05,551.78 275.37,534.46 279.65,517.11 C283.93,499.75 288.16,482.34 292.44,464.99 C296.72,447.63 302.52,425.42 305.34,412.97 C308.17,400.52 308.27,397.06 309.39,390.29 C310.51,383.52 311.17,376.89 312.06,372.34 C312.95,367.79 313.39,365.79 314.72,363.00 C316.06,360.21 318.30,357.51 320.05,355.61 C321.81,353.72 323.08,352.83 325.28,351.61 C327.48,350.40 329.10,349.77 333.27,348.33 C337.45,346.89 343.97,344.65 350.33,342.99 C356.69,341.34 364.35,339.44 371.44,338.38 C378.53,337.32 387.49,336.92 392.87,336.63 C398.26,336.34 400.21,336.53 403.75,336.63 C407.28,336.74 409.88,336.92 414.09,337.25 C418.30,337.57 425.64,338.07 429.01,338.58 C432.39,339.09 432.57,339.04 434.35,340.33 C436.12,341.61 437.45,343.95 439.68,346.28 C441.90,348.60 444.83,351.94 447.67,354.28 C450.52,356.62 453.62,358.81 456.73,360.33 C459.84,361.86 462.56,362.83 466.33,363.41 C470.10,363.99 473.86,364.28 479.34,363.82 C484.81,363.36 492.33,362.01 499.17,360.64 C506.01,359.27 514.89,356.71 520.38,355.61 C525.87,354.52 528.54,354.25 532.11,354.07 C535.68,353.90 538.06,354.13 541.81,354.59 C545.56,355.05 551.05,356.06 554.61,356.84 C558.16,357.63 558.11,357.41 563.14,359.31 C568.16,361.21 577.65,365.39 584.78,368.23 C591.90,371.07 598.83,373.35 605.89,376.34 C612.94,379.33 620.01,382.97 627.10,386.19 C634.19,389.40 641.37,392.96 648.43,395.63 C655.48,398.30 664.05,400.38 669.43,402.19 C674.81,404.01 677.18,405.08 680.73,406.50 C684.28,407.92 686.04,408.76 690.75,410.71 C695.46,412.66 704.06,416.47 708.98,418.20 C713.91,419.93 716.20,419.81 720.28,421.07 C724.37,422.34 727.80,423.59 733.50,425.79 C739.21,428.00 748.88,431.54 754.51,434.31 C760.14,437.08 763.29,439.90 767.30,442.41 C771.32,444.93 775.16,447.29 778.60,449.39 C782.05,451.49 785.94,453.31 787.98,455.03 C790.03,456.76 790.08,457.70 790.86,459.75 C791.65,461.80 792.37,466.08 792.68,467.34" fill="none" stroke="#e8561c" stroke-width="1.8" stroke-linejoin="round" stroke-linecap="round"/>
<text x="31.00" y="943.70" font-size="15.4" fill="#e3121b">Norm-Leistung</text>
<text x="137.30" y="941.50" font-size="10" fill="#e3121b">1)</text>
<text x="192.60" y="943.70" font-size="15.4" fill="#e3121b">P<tspan font-size="9.9" dy="4.2">Norm</tspan></text>
<text x="294.00" y="943.70" font-size="15.4" fill="#e3121b" text-anchor="end">376,6</text>
<text x="303.90" y="943.70" font-size="15.4" fill="#e3121b">PS</text>
<text x="344.40" y="943.70" font-size="15.4" fill="#e3121b">/</text>
<text x="399.80" y="943.70" font-size="15.4" fill="#e3121b" text-anchor="end">277,0</text>
<text x="410.20" y="943.70" font-size="15.4" fill="#e3121b">kW</text>
<text x="31.00" y="962.25" font-size="15.4" fill="#e3121b">Motorleistung</text>
<text x="192.60" y="962.25" font-size="15.4" fill="#e3121b">P<tspan font-size="9.9" dy="4.2">Mot</tspan></text>
<text x="294.00" y="962.25" font-size="15.4" fill="#e3121b" text-anchor="end">397,7</text>
<text x="303.90" y="962.25" font-size="15.4" fill="#e3121b">PS</text>
<text x="344.40" y="962.25" font-size="15.4" fill="#e3121b">/</text>
<text x="399.80" y="962.25" font-size="15.4" fill="#e3121b" text-anchor="end">292,5</text>
<text x="410.20" y="962.25" font-size="15.4" fill="#e3121b">kW</text>
<text x="31.00" y="980.80" font-size="15.4" fill="#1414c8">Radleistung</text>
<text x="192.60" y="980.80" font-size="15.4" fill="#1414c8">P<tspan font-size="9.9" dy="4.2">Rad</tspan></text>
<text x="294.00" y="980.80" font-size="15.4" fill="#1414c8" text-anchor="end">314,0</text>
<text x="303.90" y="980.80" font-size="15.4" fill="#1414c8">PS</text>
<text x="344.40" y="980.80" font-size="15.4" fill="#1414c8">/</text>
<text x="399.80" y="980.80" font-size="15.4" fill="#1414c8" text-anchor="end">230,9</text>
<text x="410.20" y="980.80" font-size="15.4" fill="#1414c8">kW</text>
<text x="31.00" y="999.35" font-size="15.4" fill="#218a21">Schleppleistung</text>
<text x="192.60" y="999.35" font-size="15.4" fill="#218a21">P<tspan font-size="9.9" dy="4.2">Schlepp</tspan></text>
<text x="294.00" y="999.35" font-size="15.4" fill="#218a21" text-anchor="end">83,7</text>
<text x="303.90" y="999.35" font-size="15.4" fill="#218a21">PS</text>
<text x="349.60" y="999.35" font-size="15.4" fill="#218a21">/</text>
<text x="399.80" y="999.35" font-size="15.4" fill="#218a21" text-anchor="end">61,6</text>
<text x="410.20" y="999.35" font-size="15.4" fill="#218a21">kW</text>
<text x="31.00" y="1017.90" font-size="15.4" fill="#000">Max. Leistung bei</text>
<text x="294.00" y="1017.90" font-size="15.4" fill="#8a8a8a" text-anchor="end">6680</text>
<text x="303.90" y="1017.90" font-size="15.4" fill="#8a8a8a">U/min</text>
<text x="344.70" y="1017.90" font-size="15.4" fill="#000">/</text>
<text x="399.80" y="1017.90" font-size="15.4" fill="#000" text-anchor="end">222,4</text>
<text x="410.20" y="1017.90" font-size="15.4" fill="#000">km/h</text>
<text x="31.00" y="1044.20" font-size="15.4" fill="#e8561c">Drehmoment</text>
<text x="125.60" y="1042.00" font-size="10" fill="#e8561c">1)</text>
<text x="192.60" y="1044.20" font-size="15.4" fill="#e8561c">M<tspan font-size="9.9" dy="4.2">Norm</tspan></text>
<text x="294.00" y="1044.20" font-size="15.4" fill="#e8561c" text-anchor="end">494,7</text>
<text x="303.90" y="1044.20" font-size="15.4" fill="#e8561c">Nm</text>
<text x="31.00" y="1061.70" font-size="15.4" fill="#000">Max. Drehmoment bei</text>
<text x="294.00" y="1061.70" font-size="15.4" fill="#8a8a8a" text-anchor="end">3230</text>
<text x="303.90" y="1061.70" font-size="15.4" fill="#8a8a8a">U/min</text>
<text x="344.70" y="1061.70" font-size="15.4" fill="#000">/</text>
<text x="399.80" y="1061.70" font-size="15.4" fill="#000" text-anchor="end">107,6</text>
<text x="410.20" y="1061.70" font-size="15.4" fill="#000">km/h</text>
<text x="31.00" y="1087.50" font-size="15.4" fill="#000">Max. erreichte Drehzahl</text>
<text x="294.00" y="1087.50" font-size="15.4" fill="#8a8a8a" text-anchor="end">6965</text>
<text x="303.90" y="1087.50" font-size="15.4" fill="#8a8a8a">U/min</text>
<text x="344.70" y="1087.50" font-size="15.4" fill="#000">/</text>
<text x="399.80" y="1087.50" font-size="15.4" fill="#000" text-anchor="end">232,0</text>
<text x="410.20" y="1087.50" font-size="15.4" fill="#000">km/h</text>
<text x="31.80" y="1111.30" font-size="10" fill="#e3121b">1)</text>
<text x="43.00" y="1113.30" font-size="15.4" fill="#e3121b">Korrektur nach EWG 80/1269</text>
<text x="43.00" y="1130.80" font-size="15.4" fill="#e3121b">Korrektur-Faktoren:</text>
<text x="180.60" y="1130.80" font-size="15.4" fill="#e3121b">Q<tspan font-size="9.9" dy="4.2">V</tspan></text>
<text x="204.30" y="1130.80" font-size="15.4" fill="#e3121b">=</text>
<text x="225.80" y="1130.80" font-size="15.4" fill="#e3121b">0,00 %</text>
<text x="470.90" y="943.70" font-size="15.4" fill="#000">Umgebungs-Temperatur</text>
<text x="672.40" y="943.70" font-size="15.4" fill="#000">T<tspan font-size="9.9" dy="4.2">Umgebung</tspan></text>
<text x="793.30" y="943.70" font-size="15.4" fill="#000" text-anchor="end">12,6</text>
<text x="803.60" y="943.70" font-size="15.4" fill="#000">°C</text>
<text x="470.90" y="962.25" font-size="15.4" fill="#000">Ansaugluft-Temperatur</text>
<text x="672.40" y="962.25" font-size="15.4" fill="#000">T<tspan font-size="9.9" dy="4.2">Ansaugluft</tspan></text>
<text x="793.30" y="962.25" font-size="15.4" fill="#000" text-anchor="end">11,6</text>
<text x="803.60" y="962.25" font-size="15.4" fill="#000">°C</text>
<text x="470.90" y="980.80" font-size="15.4" fill="#000">Relative Luftfeuchte</text>
<text x="672.40" y="980.80" font-size="15.4" fill="#000">H<tspan font-size="9.9" dy="4.2">Luft</tspan></text>
<text x="793.30" y="980.80" font-size="15.4" fill="#000" text-anchor="end">22,4</text>
<text x="803.60" y="980.80" font-size="15.4" fill="#000">%</text>
<text x="470.90" y="999.35" font-size="15.4" fill="#000">Luftdruck</text>
<text x="672.40" y="999.35" font-size="15.4" fill="#000">p<tspan font-size="9.9" dy="4.2">Luft</tspan></text>
<text x="793.30" y="999.35" font-size="15.4" fill="#000" text-anchor="end">1015,8</text>
<text x="803.60" y="999.35" font-size="15.4" fill="#000">hPa</text>
<text x="470.90" y="1017.90" font-size="15.4" fill="#000">Dampfdruck</text>
<text x="672.40" y="1017.90" font-size="15.4" fill="#000">p<tspan font-size="9.9" dy="4.2">Dampf</tspan></text>
<text x="793.30" y="1017.90" font-size="15.4" fill="#000" text-anchor="end">3,3</text>
<text x="803.60" y="1017.90" font-size="15.4" fill="#000">hPa</text>
<text x="470.90" y="1044.20" font-size="15.4" fill="#000">Öl-Temperatur</text>
<text x="672.40" y="1044.20" font-size="15.4" fill="#000">T<tspan font-size="9.9" dy="4.2">Öl</tspan></text>
<text x="793.30" y="1044.20" font-size="15.4" fill="#000" text-anchor="end">----,-</text>
<text x="803.60" y="1044.20" font-size="15.4" fill="#000">°C</text>
<text x="470.90" y="1061.70" font-size="15.4" fill="#000">Kraftstoff-Temperatur</text>
<text x="672.40" y="1061.70" font-size="15.4" fill="#000">T<tspan font-size="9.9" dy="4.2">Kraftstoff</tspan></text>
<text x="793.30" y="1061.70" font-size="15.4" fill="#000" text-anchor="end">----,-</text>
<text x="803.60" y="1061.70" font-size="15.4" fill="#000">°C</text>
<text x="31.00" y="1201.30" font-size="15.4" fill="#000">Geschwindigkeit unbelastet</text>
<text x="263.00" y="1201.30" font-size="15.4" fill="#000">v<tspan font-size="9.9" dy="4.2">unbelastet</tspan></text>
<text x="384.60" y="1201.30" font-size="15.4" fill="#000" text-anchor="end">----,-</text>
<text x="394.80" y="1201.30" font-size="15.4" fill="#000">km/h</text>
<text x="31.00" y="1219.85" font-size="15.4" fill="#000">Drehzahl unbelastet</text>
<text x="263.00" y="1219.85" font-size="15.4" fill="#000">n<tspan font-size="9.9" dy="4.2">unbelastet</tspan></text>
<text x="384.60" y="1219.85" font-size="15.4" fill="#000" text-anchor="end">-----</text>
<text x="394.80" y="1219.85" font-size="15.4" fill="#000">U/min</text>
<text x="31.00" y="1238.40" font-size="15.4" fill="#000">Geschwindigkeit Vollast</text>
<text x="263.00" y="1238.40" font-size="15.4" fill="#000">v<tspan font-size="9.9" dy="4.2">Vollast</tspan></text>
<text x="384.60" y="1238.40" font-size="15.4" fill="#000" text-anchor="end">----,-</text>
<text x="394.80" y="1238.40" font-size="15.4" fill="#000">km/h</text>
<text x="31.00" y="1256.95" font-size="15.4" fill="#000">Drehzahl Vollast</text>
<text x="263.00" y="1256.95" font-size="15.4" fill="#000">n<tspan font-size="9.9" dy="4.2">Vollast</tspan></text>
<text x="384.60" y="1256.95" font-size="15.4" fill="#000" text-anchor="end">-----</text>
<text x="394.80" y="1256.95" font-size="15.4" fill="#000">U/min</text>
<text x="31.00" y="1283.10" font-size="15.4" fill="#000">Schlupf</text>
<text x="384.60" y="1283.10" font-size="15.4" fill="#000" text-anchor="end">---,--</text>
<text x="394.80" y="1283.10" font-size="15.4" fill="#000">%</text>
<text x="470.90" y="1201.30" font-size="15.4" fill="#000">Mittlere Verzögerung Auslauf 1</text>
<text x="702.10" y="1201.30" font-size="15.4" fill="#000">a<tspan font-size="9.9" dy="4.2">1</tspan></text>
<text x="823.80" y="1201.30" font-size="15.4" fill="#000" text-anchor="end">---,---</text>
<text x="833.6" y="1201.30" font-size="15.4">m/s<tspan font-size="10" dy="-3">2</tspan></text>
<text x="470.90" y="1219.85" font-size="15.4" fill="#000">Mittlere Bremskraft Auslauf 1</text>
<text x="702.10" y="1219.85" font-size="15.4" fill="#000">F<tspan font-size="9.9" dy="4.2">1</tspan></text>
<text x="823.80" y="1219.85" font-size="15.4" fill="#000" text-anchor="end">-----,-</text>
<text x="833.60" y="1219.85" font-size="15.4" fill="#000">N</text>
<text x="470.90" y="1238.40" font-size="15.4" fill="#000">Mittlere Verzögerung Auslauf 2</text>
<text x="702.10" y="1238.40" font-size="15.4" fill="#000">a<tspan font-size="9.9" dy="4.2">2</tspan></text>
<text x="823.80" y="1238.40" font-size="15.4" fill="#000" text-anchor="end">---,---</text>
<text x="833.6" y="1238.40" font-size="15.4">m/s<tspan font-size="10" dy="-3">2</tspan></text>
<text x="470.90" y="1256.95" font-size="15.4" fill="#000">Mittlere Bremskraft Auslauf 2</text>
<text x="702.10" y="1256.95" font-size="15.4" fill="#000">F<tspan font-size="9.9" dy="4.2">2</tspan></text>
<text x="823.80" y="1256.95" font-size="15.4" fill="#000" text-anchor="end">-----,-</text>
<text x="833.60" y="1256.95" font-size="15.4" fill="#000">N</text>
<text x="470.90" y="1283.10" font-size="15.4" fill="#000">Kraft der Rotierenden Masse</text>
<text x="702.10" y="1283.10" font-size="15.4" fill="#000">F<tspan font-size="9.9" dy="4.2">rot-Gesamt</tspan></text>
<text x="823.80" y="1283.10" font-size="15.4" fill="#000" text-anchor="end">-----,-</text>
<text x="833.60" y="1283.10" font-size="15.4" fill="#000">N</text>
<text x="470.90" y="1307.40" font-size="15.4" fill="#000">Rotierende Gesamt-Masse</text>
<text x="702.10" y="1307.40" font-size="15.4" fill="#000">m<tspan font-size="9.9" dy="4.2">rot-Gesamt</tspan></text>
<text x="823.80" y="1307.40" font-size="15.4" fill="#000" text-anchor="end">310,0</text>
<text x="833.60" y="1307.40" font-size="15.4" fill="#000">kg</text>
<text x="470.90" y="1326.00" font-size="15.4" fill="#000">Rotierende Prüfstands-Masse</text>
<text x="702.10" y="1326.00" font-size="15.4" fill="#000">m<tspan font-size="9.9" dy="4.2">rot-Prüfstand</tspan></text>
<text x="823.80" y="1326.00" font-size="15.4" fill="#000" text-anchor="end">250,0</text>
<text x="833.60" y="1326.00" font-size="15.4" fill="#000">kg</text>
<text x="470.90" y="1344.40" font-size="15.4" fill="#000">Rotierende Fahrzeug-Masse</text>
<text x="702.10" y="1344.40" font-size="15.4" fill="#000">m<tspan font-size="9.9" dy="4.2">rot-Fahrzeug</tspan></text>
<text x="823.80" y="1344.40" font-size="15.4" fill="#000" text-anchor="end">60,0</text>
<text x="833.60" y="1344.40" font-size="15.4" fill="#000">kg</text>
<g transform="translate(27.3,90.6) skewX(-10.5)" font-size="95" font-weight="bold" fill="#000" stroke="#000" stroke-width="13" stroke-linejoin="miter"><text x="0" y="0" textLength="62.4" lengthAdjust="spacingAndGlyphs">H</text><text x="72.7" y="0" textLength="45.3" lengthAdjust="spacingAndGlyphs">F</text></g>
<g transform="translate(24.3,88.0) skewX(-10.5)" font-size="95" font-weight="bold" fill="#000" stroke="#000" stroke-width="13" stroke-linejoin="miter"><text x="0" y="0" textLength="62.4" lengthAdjust="spacingAndGlyphs">H</text><text x="72.7" y="0" textLength="45.3" lengthAdjust="spacingAndGlyphs">F</text></g>
<g transform="translate(24.3,88.0) skewX(-10.5)" font-size="95" font-weight="bold" fill="#fff" stroke="#fff" stroke-width="7.4" stroke-linejoin="miter"><text x="0" y="0" textLength="62.4" lengthAdjust="spacingAndGlyphs">H</text><text x="72.7" y="0" textLength="45.3" lengthAdjust="spacingAndGlyphs">F</text></g>
<g transform="translate(139,92) skewX(-22)"><text x="0" y="0" font-size="96" font-weight="bold" fill="#e0141c" stroke="#e0141c" stroke-width="2" textLength="62" lengthAdjust="spacingAndGlyphs">S</text></g>
<g transform="translate(214,95) skewX(-24)"><text x="0" y="0" font-size="40" font-weight="bold" fill="#e0141c" stroke="#e0141c" stroke-width="1.6" textLength="112" lengthAdjust="spacingAndGlyphs">ERIES</text></g>
<polygon points="198,25 205,21 218,31.5 206,40 203,33" fill="#e0141c"/>
<text x="786.6" y="76.0" font-size="46.5" font-weight="bold" fill="#0b0bea" stroke="#0b0bea" stroke-width="3.4" stroke-linejoin="miter" textLength="77" lengthAdjust="spacingAndGlyphs">MAHA</text>
<path d="M788.6,32.4 C801,4.5 849,4.5 861.5,33.2 C850,68.4 800,68.4 788.6,32.4 Z" fill="#f40c0c" stroke="#fff" stroke-width="3.2"/>
<rect x="-1.5" y="-7.8" width="3" height="4" fill="#fff" transform="translate(825.2,35.3) rotate(0)"/><rect x="-1.5" y="-7.8" width="3" height="4" fill="#fff" transform="translate(825.2,35.3) rotate(36)"/><rect x="-1.5" y="-7.8" width="3" height="4" fill="#fff" transform="translate(825.2,35.3) rotate(72)"/><rect x="-1.5" y="-7.8" width="3" height="4" fill="#fff" transform="translate(825.2,35.3) rotate(108)"/><rect x="-1.5" y="-7.8" width="3" height="4" fill="#fff" transform="translate(825.2,35.3) rotate(144)"/><rect x="-1.5" y="-7.8" width="3" height="4" fill="#fff" transform="translate(825.2,35.3) rotate(180)"/><rect x="-1.5" y="-7.8" width="3" height="4" fill="#fff" transform="translate(825.2,35.3) rotate(216)"/><rect x="-1.5" y="-7.8" width="3" height="4" fill="#fff" transform="translate(825.2,35.3) rotate(252)"/><rect x="-1.5" y="-7.8" width="3" height="4" fill="#fff" transform="translate(825.2,35.3) rotate(288)"/><rect x="-1.5" y="-7.8" width="3" height="4" fill="#fff" transform="translate(825.2,35.3) rotate(324)"/>
<circle cx="825.2" cy="35.3" r="5.3" fill="#fff"/><circle cx="825.2" cy="35.3" r="1.2" fill="#f40c0c"/>
<path id="PTOP" d="M794,40 C797,19.5 853,19.5 856,40" fill="none"/>
<path id="PBOT" d="M797,42 C804,62 846,62 853,42" fill="none"/>
<text font-size="8.3" fill="#fff"><textPath href="#PTOP" startOffset="50%" text-anchor="middle">Maschinenbau</textPath></text>
<text font-size="8.3" fill="#fff"><textPath href="#PBOT" startOffset="50%" text-anchor="middle">Haldenwang</textPath></text>
<text x="859.6" y="41.6" font-size="8.5" fill="#5060e8">®</text>
<text x="826.20" y="97.50" font-size="15.3" fill="#000" text-anchor="middle" font-style="italic">LPS 3000 PKW</text>
<text x="472.90" y="201.10" font-size="42.25" fill="#000" text-anchor="middle">Software+ High Flow Ansaugstutzen</text>
<text x="13.7" y="254.4" font-size="46.5" textLength="39.0" font-family="'DejaVu Sans', sans-serif" fill="#000" stroke="#000" stroke-linejoin="round" font-weight="bold" lengthAdjust="spacingAndGlyphs" stroke-width="5.0">+</text>
<text x="71.6" y="260.7" font-size="55.0" textLength="225.0" font-family="'DejaVu Sans', sans-serif" fill="#000" stroke="#000" stroke-linejoin="round" font-weight="bold" lengthAdjust="spacingAndGlyphs" stroke-width="5.0">15,2PS</text>
<text x="313.8" y="260.1" font-size="28.2" textLength="570.0" font-family="'DejaVu Sans', sans-serif" fill="#000" stroke="#000" stroke-linejoin="round" font-weight="bold" lengthAdjust="spacingAndGlyphs" stroke-width="3.6">ohne weitere Softwareanpassung!</text>
<text x="13.7" y="254.4" font-size="46.5" textLength="39.0" font-family="'DejaVu Sans', sans-serif" fill="#f50a0a" stroke="#f50a0a" stroke-linejoin="round" font-weight="bold" lengthAdjust="spacingAndGlyphs" stroke-width="2.4">+</text>
<text x="71.6" y="260.7" font-size="55.0" textLength="225.0" font-family="'DejaVu Sans', sans-serif" fill="#f50a0a" stroke="#f50a0a" stroke-linejoin="round" font-weight="bold" lengthAdjust="spacingAndGlyphs" stroke-width="2.4">15,2PS</text>
<text x="313.8" y="260.1" font-size="28.2" textLength="570.0" font-family="'DejaVu Sans', sans-serif" fill="#f50a0a" stroke="#f50a0a" stroke-linejoin="round" font-weight="bold" lengthAdjust="spacingAndGlyphs" stroke-width="1.0">ohne weitere Softwareanpassung!</text>
</g>
</svg>
</body></html>
